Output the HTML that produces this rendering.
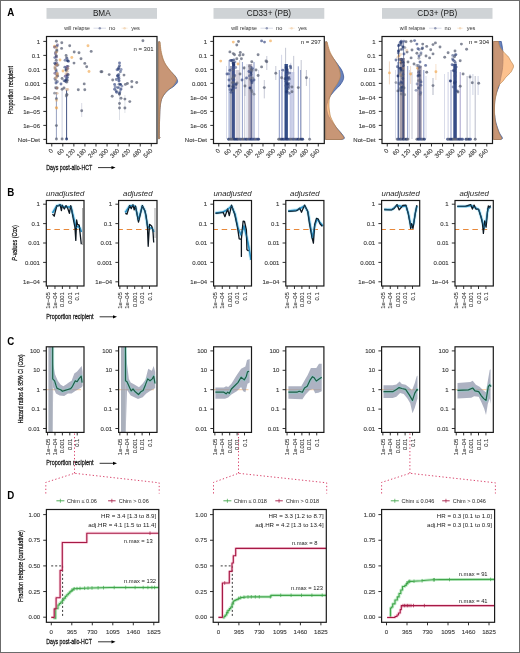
<!DOCTYPE html>
<html><head><meta charset="utf-8"><style>
html,body{margin:0;padding:0;background:#fff;}
svg{display:block;font-family:"Liberation Sans",sans-serif;will-change:transform;}
</style></head><body>
<svg width="520" height="653" viewBox="0 0 520 653">
<rect width="520" height="653" fill="#fff"/>
<text transform="translate(7.2,15.5) scale(0.9,1)" font-size="10.8" text-anchor="start" fill="#000" font-weight="bold" font-style="normal">A</text>
<text transform="translate(7.2,195.5) scale(0.9,1)" font-size="10.8" text-anchor="start" fill="#000" font-weight="bold" font-style="normal">B</text>
<text transform="translate(7.2,344.7) scale(0.9,1)" font-size="10.8" text-anchor="start" fill="#000" font-weight="bold" font-style="normal">C</text>
<text transform="translate(7.2,498.6) scale(0.9,1)" font-size="10.8" text-anchor="start" fill="#000" font-weight="bold" font-style="normal">D</text>
<rect x="46.5" y="8" width="110.5" height="10.8" fill="#cfd3d6" stroke="none" stroke-width="1" />
<text transform="translate(101.75,15.5)" font-size="8.2" text-anchor="middle" fill="#1a1a1a" font-weight="normal" font-style="normal">BMA</text>
<text transform="translate(64.3,30) scale(0.93,1)" font-size="5.6" text-anchor="start" fill="#333" font-weight="normal" font-style="normal">will relapse</text>
<line x1="93.5" y1="28.2" x2="106" y2="28.2" stroke="#d0d4e2" stroke-width="0.8" />
<circle cx="99.8" cy="28.2" r="1.2" fill="#6a7398" fill-opacity="0.7" />
<text transform="translate(109.1,30)" font-size="5.6" text-anchor="start" fill="#333" font-weight="normal" font-style="normal">no</text>
<line x1="121.5" y1="28.2" x2="127.7" y2="28.2" stroke="#f8e6d4" stroke-width="0.8" />
<circle cx="124.6" cy="28.2" r="1.2" fill="#f0cfa8" fill-opacity="0.7" />
<text transform="translate(131.2,30)" font-size="5.6" text-anchor="start" fill="#333" font-weight="normal" font-style="normal">yes</text>
<line x1="43.3" y1="41.4" x2="46.5" y2="41.4" stroke="#1a1a1a" stroke-width="0.9" />
<text transform="translate(40,43.5)" font-size="6.0" text-anchor="end" fill="#3c3c3c" font-weight="normal" font-style="normal" stroke="#3c3c3c" stroke-width="0.12">1</text>
<line x1="43.3" y1="55.4" x2="46.5" y2="55.4" stroke="#1a1a1a" stroke-width="0.9" />
<text transform="translate(40,57.5)" font-size="6.0" text-anchor="end" fill="#3c3c3c" font-weight="normal" font-style="normal" stroke="#3c3c3c" stroke-width="0.12">0.1</text>
<line x1="43.3" y1="69.4" x2="46.5" y2="69.4" stroke="#1a1a1a" stroke-width="0.9" />
<text transform="translate(40,71.5)" font-size="6.0" text-anchor="end" fill="#3c3c3c" font-weight="normal" font-style="normal" stroke="#3c3c3c" stroke-width="0.12">0.01</text>
<line x1="43.3" y1="83.4" x2="46.5" y2="83.4" stroke="#1a1a1a" stroke-width="0.9" />
<text transform="translate(40,85.5)" font-size="6.0" text-anchor="end" fill="#3c3c3c" font-weight="normal" font-style="normal" stroke="#3c3c3c" stroke-width="0.12">0.001</text>
<line x1="43.3" y1="97.4" x2="46.5" y2="97.4" stroke="#1a1a1a" stroke-width="0.9" />
<text transform="translate(40,99.5)" font-size="6.0" text-anchor="end" fill="#3c3c3c" font-weight="normal" font-style="normal" stroke="#3c3c3c" stroke-width="0.12">1e−04</text>
<line x1="43.3" y1="111.4" x2="46.5" y2="111.4" stroke="#1a1a1a" stroke-width="0.9" />
<text transform="translate(40,113.5)" font-size="6.0" text-anchor="end" fill="#3c3c3c" font-weight="normal" font-style="normal" stroke="#3c3c3c" stroke-width="0.12">1e−05</text>
<line x1="43.3" y1="125.4" x2="46.5" y2="125.4" stroke="#1a1a1a" stroke-width="0.9" />
<text transform="translate(40,127.5)" font-size="6.0" text-anchor="end" fill="#3c3c3c" font-weight="normal" font-style="normal" stroke="#3c3c3c" stroke-width="0.12">1e−06</text>
<line x1="43.3" y1="139.4" x2="46.5" y2="139.4" stroke="#1a1a1a" stroke-width="0.9" />
<text transform="translate(40,141.5)" font-size="6.0" text-anchor="end" fill="#3c3c3c" font-weight="normal" font-style="normal" stroke="#3c3c3c" stroke-width="0.12">Not−Det</text>
<line x1="51.75" y1="143.5" x2="51.75" y2="146.5" stroke="#1a1a1a" stroke-width="0.9" />
<text transform="translate(53.25,151.1) rotate(-45)" font-size="6.0" text-anchor="end" fill="#3c3c3c" font-weight="normal" font-style="normal" stroke="#3c3c3c" stroke-width="0.12">0</text>
<line x1="62.81" y1="143.5" x2="62.81" y2="146.5" stroke="#1a1a1a" stroke-width="0.9" />
<text transform="translate(64.31,151.1) rotate(-45)" font-size="6.0" text-anchor="end" fill="#3c3c3c" font-weight="normal" font-style="normal" stroke="#3c3c3c" stroke-width="0.12">60</text>
<line x1="73.87" y1="143.5" x2="73.87" y2="146.5" stroke="#1a1a1a" stroke-width="0.9" />
<text transform="translate(75.37,151.1) rotate(-45)" font-size="6.0" text-anchor="end" fill="#3c3c3c" font-weight="normal" font-style="normal" stroke="#3c3c3c" stroke-width="0.12">120</text>
<line x1="84.93" y1="143.5" x2="84.93" y2="146.5" stroke="#1a1a1a" stroke-width="0.9" />
<text transform="translate(86.43,151.1) rotate(-45)" font-size="6.0" text-anchor="end" fill="#3c3c3c" font-weight="normal" font-style="normal" stroke="#3c3c3c" stroke-width="0.12">180</text>
<line x1="95.99" y1="143.5" x2="95.99" y2="146.5" stroke="#1a1a1a" stroke-width="0.9" />
<text transform="translate(97.49,151.1) rotate(-45)" font-size="6.0" text-anchor="end" fill="#3c3c3c" font-weight="normal" font-style="normal" stroke="#3c3c3c" stroke-width="0.12">240</text>
<line x1="107.05" y1="143.5" x2="107.05" y2="146.5" stroke="#1a1a1a" stroke-width="0.9" />
<text transform="translate(108.55,151.1) rotate(-45)" font-size="6.0" text-anchor="end" fill="#3c3c3c" font-weight="normal" font-style="normal" stroke="#3c3c3c" stroke-width="0.12">300</text>
<line x1="118.11" y1="143.5" x2="118.11" y2="146.5" stroke="#1a1a1a" stroke-width="0.9" />
<text transform="translate(119.61,151.1) rotate(-45)" font-size="6.0" text-anchor="end" fill="#3c3c3c" font-weight="normal" font-style="normal" stroke="#3c3c3c" stroke-width="0.12">360</text>
<line x1="129.17" y1="143.5" x2="129.17" y2="146.5" stroke="#1a1a1a" stroke-width="0.9" />
<text transform="translate(130.67,151.1) rotate(-45)" font-size="6.0" text-anchor="end" fill="#3c3c3c" font-weight="normal" font-style="normal" stroke="#3c3c3c" stroke-width="0.12">420</text>
<line x1="140.23" y1="143.5" x2="140.23" y2="146.5" stroke="#1a1a1a" stroke-width="0.9" />
<text transform="translate(141.73,151.1) rotate(-45)" font-size="6.0" text-anchor="end" fill="#3c3c3c" font-weight="normal" font-style="normal" stroke="#3c3c3c" stroke-width="0.12">480</text>
<line x1="151.29" y1="143.5" x2="151.29" y2="146.5" stroke="#1a1a1a" stroke-width="0.9" />
<text transform="translate(152.79,151.1) rotate(-45)" font-size="6.0" text-anchor="end" fill="#3c3c3c" font-weight="normal" font-style="normal" stroke="#3c3c3c" stroke-width="0.12">540</text>
<text transform="translate(153.6,51.1)" font-size="6.0" text-anchor="end" fill="#1a1a1a" font-weight="normal" font-style="normal">n = 301</text>
<rect x="213.5" y="8" width="110.8" height="10.8" fill="#cfd3d6" stroke="none" stroke-width="1" />
<text transform="translate(268.9,15.5)" font-size="8.2" text-anchor="middle" fill="#1a1a1a" font-weight="normal" font-style="normal">CD33+ (PB)</text>
<text transform="translate(231.3,30) scale(0.93,1)" font-size="5.6" text-anchor="start" fill="#333" font-weight="normal" font-style="normal">will relapse</text>
<line x1="260.5" y1="28.2" x2="273" y2="28.2" stroke="#d0d4e2" stroke-width="0.8" />
<circle cx="266.8" cy="28.2" r="1.2" fill="#6a7398" fill-opacity="0.7" />
<text transform="translate(276.1,30)" font-size="5.6" text-anchor="start" fill="#333" font-weight="normal" font-style="normal">no</text>
<line x1="288.5" y1="28.2" x2="294.7" y2="28.2" stroke="#f8e6d4" stroke-width="0.8" />
<circle cx="291.6" cy="28.2" r="1.2" fill="#f0cfa8" fill-opacity="0.7" />
<text transform="translate(298.2,30)" font-size="5.6" text-anchor="start" fill="#333" font-weight="normal" font-style="normal">yes</text>
<line x1="210.3" y1="41.4" x2="213.5" y2="41.4" stroke="#1a1a1a" stroke-width="0.9" />
<text transform="translate(207,43.5)" font-size="6.0" text-anchor="end" fill="#3c3c3c" font-weight="normal" font-style="normal" stroke="#3c3c3c" stroke-width="0.12">1</text>
<line x1="210.3" y1="55.4" x2="213.5" y2="55.4" stroke="#1a1a1a" stroke-width="0.9" />
<text transform="translate(207,57.5)" font-size="6.0" text-anchor="end" fill="#3c3c3c" font-weight="normal" font-style="normal" stroke="#3c3c3c" stroke-width="0.12">0.1</text>
<line x1="210.3" y1="69.4" x2="213.5" y2="69.4" stroke="#1a1a1a" stroke-width="0.9" />
<text transform="translate(207,71.5)" font-size="6.0" text-anchor="end" fill="#3c3c3c" font-weight="normal" font-style="normal" stroke="#3c3c3c" stroke-width="0.12">0.01</text>
<line x1="210.3" y1="83.4" x2="213.5" y2="83.4" stroke="#1a1a1a" stroke-width="0.9" />
<text transform="translate(207,85.5)" font-size="6.0" text-anchor="end" fill="#3c3c3c" font-weight="normal" font-style="normal" stroke="#3c3c3c" stroke-width="0.12">0.001</text>
<line x1="210.3" y1="97.4" x2="213.5" y2="97.4" stroke="#1a1a1a" stroke-width="0.9" />
<text transform="translate(207,99.5)" font-size="6.0" text-anchor="end" fill="#3c3c3c" font-weight="normal" font-style="normal" stroke="#3c3c3c" stroke-width="0.12">1e−04</text>
<line x1="210.3" y1="111.4" x2="213.5" y2="111.4" stroke="#1a1a1a" stroke-width="0.9" />
<text transform="translate(207,113.5)" font-size="6.0" text-anchor="end" fill="#3c3c3c" font-weight="normal" font-style="normal" stroke="#3c3c3c" stroke-width="0.12">1e−05</text>
<line x1="210.3" y1="125.4" x2="213.5" y2="125.4" stroke="#1a1a1a" stroke-width="0.9" />
<text transform="translate(207,127.5)" font-size="6.0" text-anchor="end" fill="#3c3c3c" font-weight="normal" font-style="normal" stroke="#3c3c3c" stroke-width="0.12">1e−06</text>
<line x1="210.3" y1="139.4" x2="213.5" y2="139.4" stroke="#1a1a1a" stroke-width="0.9" />
<text transform="translate(207,141.5)" font-size="6.0" text-anchor="end" fill="#3c3c3c" font-weight="normal" font-style="normal" stroke="#3c3c3c" stroke-width="0.12">Not−Det</text>
<line x1="218.75" y1="143.5" x2="218.75" y2="146.5" stroke="#1a1a1a" stroke-width="0.9" />
<text transform="translate(220.25,151.1) rotate(-45)" font-size="6.0" text-anchor="end" fill="#3c3c3c" font-weight="normal" font-style="normal" stroke="#3c3c3c" stroke-width="0.12">0</text>
<line x1="229.81" y1="143.5" x2="229.81" y2="146.5" stroke="#1a1a1a" stroke-width="0.9" />
<text transform="translate(231.31,151.1) rotate(-45)" font-size="6.0" text-anchor="end" fill="#3c3c3c" font-weight="normal" font-style="normal" stroke="#3c3c3c" stroke-width="0.12">60</text>
<line x1="240.87" y1="143.5" x2="240.87" y2="146.5" stroke="#1a1a1a" stroke-width="0.9" />
<text transform="translate(242.37,151.1) rotate(-45)" font-size="6.0" text-anchor="end" fill="#3c3c3c" font-weight="normal" font-style="normal" stroke="#3c3c3c" stroke-width="0.12">120</text>
<line x1="251.93" y1="143.5" x2="251.93" y2="146.5" stroke="#1a1a1a" stroke-width="0.9" />
<text transform="translate(253.43,151.1) rotate(-45)" font-size="6.0" text-anchor="end" fill="#3c3c3c" font-weight="normal" font-style="normal" stroke="#3c3c3c" stroke-width="0.12">180</text>
<line x1="262.99" y1="143.5" x2="262.99" y2="146.5" stroke="#1a1a1a" stroke-width="0.9" />
<text transform="translate(264.49,151.1) rotate(-45)" font-size="6.0" text-anchor="end" fill="#3c3c3c" font-weight="normal" font-style="normal" stroke="#3c3c3c" stroke-width="0.12">240</text>
<line x1="274.05" y1="143.5" x2="274.05" y2="146.5" stroke="#1a1a1a" stroke-width="0.9" />
<text transform="translate(275.55,151.1) rotate(-45)" font-size="6.0" text-anchor="end" fill="#3c3c3c" font-weight="normal" font-style="normal" stroke="#3c3c3c" stroke-width="0.12">300</text>
<line x1="285.11" y1="143.5" x2="285.11" y2="146.5" stroke="#1a1a1a" stroke-width="0.9" />
<text transform="translate(286.61,151.1) rotate(-45)" font-size="6.0" text-anchor="end" fill="#3c3c3c" font-weight="normal" font-style="normal" stroke="#3c3c3c" stroke-width="0.12">360</text>
<line x1="296.17" y1="143.5" x2="296.17" y2="146.5" stroke="#1a1a1a" stroke-width="0.9" />
<text transform="translate(297.67,151.1) rotate(-45)" font-size="6.0" text-anchor="end" fill="#3c3c3c" font-weight="normal" font-style="normal" stroke="#3c3c3c" stroke-width="0.12">420</text>
<line x1="307.23" y1="143.5" x2="307.23" y2="146.5" stroke="#1a1a1a" stroke-width="0.9" />
<text transform="translate(308.73,151.1) rotate(-45)" font-size="6.0" text-anchor="end" fill="#3c3c3c" font-weight="normal" font-style="normal" stroke="#3c3c3c" stroke-width="0.12">480</text>
<line x1="318.29" y1="143.5" x2="318.29" y2="146.5" stroke="#1a1a1a" stroke-width="0.9" />
<text transform="translate(319.79,151.1) rotate(-45)" font-size="6.0" text-anchor="end" fill="#3c3c3c" font-weight="normal" font-style="normal" stroke="#3c3c3c" stroke-width="0.12">540</text>
<text transform="translate(320.9,44.4)" font-size="6.0" text-anchor="end" fill="#1a1a1a" font-weight="normal" font-style="normal">n = 297</text>
<rect x="382" y="8" width="110.5" height="10.8" fill="#cfd3d6" stroke="none" stroke-width="1" />
<text transform="translate(437.25,15.5)" font-size="8.2" text-anchor="middle" fill="#1a1a1a" font-weight="normal" font-style="normal">CD3+ (PB)</text>
<text transform="translate(399.8,30) scale(0.93,1)" font-size="5.6" text-anchor="start" fill="#333" font-weight="normal" font-style="normal">will relapse</text>
<line x1="429" y1="28.2" x2="441.5" y2="28.2" stroke="#d0d4e2" stroke-width="0.8" />
<circle cx="435.3" cy="28.2" r="1.2" fill="#6a7398" fill-opacity="0.7" />
<text transform="translate(444.6,30)" font-size="5.6" text-anchor="start" fill="#333" font-weight="normal" font-style="normal">no</text>
<line x1="457" y1="28.2" x2="463.2" y2="28.2" stroke="#f8e6d4" stroke-width="0.8" />
<circle cx="460.1" cy="28.2" r="1.2" fill="#f0cfa8" fill-opacity="0.7" />
<text transform="translate(466.7,30)" font-size="5.6" text-anchor="start" fill="#333" font-weight="normal" font-style="normal">yes</text>
<line x1="378.8" y1="41.4" x2="382" y2="41.4" stroke="#1a1a1a" stroke-width="0.9" />
<text transform="translate(375.5,43.5)" font-size="6.0" text-anchor="end" fill="#3c3c3c" font-weight="normal" font-style="normal" stroke="#3c3c3c" stroke-width="0.12">1</text>
<line x1="378.8" y1="55.4" x2="382" y2="55.4" stroke="#1a1a1a" stroke-width="0.9" />
<text transform="translate(375.5,57.5)" font-size="6.0" text-anchor="end" fill="#3c3c3c" font-weight="normal" font-style="normal" stroke="#3c3c3c" stroke-width="0.12">0.1</text>
<line x1="378.8" y1="69.4" x2="382" y2="69.4" stroke="#1a1a1a" stroke-width="0.9" />
<text transform="translate(375.5,71.5)" font-size="6.0" text-anchor="end" fill="#3c3c3c" font-weight="normal" font-style="normal" stroke="#3c3c3c" stroke-width="0.12">0.01</text>
<line x1="378.8" y1="83.4" x2="382" y2="83.4" stroke="#1a1a1a" stroke-width="0.9" />
<text transform="translate(375.5,85.5)" font-size="6.0" text-anchor="end" fill="#3c3c3c" font-weight="normal" font-style="normal" stroke="#3c3c3c" stroke-width="0.12">0.001</text>
<line x1="378.8" y1="97.4" x2="382" y2="97.4" stroke="#1a1a1a" stroke-width="0.9" />
<text transform="translate(375.5,99.5)" font-size="6.0" text-anchor="end" fill="#3c3c3c" font-weight="normal" font-style="normal" stroke="#3c3c3c" stroke-width="0.12">1e−04</text>
<line x1="378.8" y1="111.4" x2="382" y2="111.4" stroke="#1a1a1a" stroke-width="0.9" />
<text transform="translate(375.5,113.5)" font-size="6.0" text-anchor="end" fill="#3c3c3c" font-weight="normal" font-style="normal" stroke="#3c3c3c" stroke-width="0.12">1e−05</text>
<line x1="378.8" y1="125.4" x2="382" y2="125.4" stroke="#1a1a1a" stroke-width="0.9" />
<text transform="translate(375.5,127.5)" font-size="6.0" text-anchor="end" fill="#3c3c3c" font-weight="normal" font-style="normal" stroke="#3c3c3c" stroke-width="0.12">1e−06</text>
<line x1="378.8" y1="139.4" x2="382" y2="139.4" stroke="#1a1a1a" stroke-width="0.9" />
<text transform="translate(375.5,141.5)" font-size="6.0" text-anchor="end" fill="#3c3c3c" font-weight="normal" font-style="normal" stroke="#3c3c3c" stroke-width="0.12">Not−Det</text>
<line x1="387.25" y1="143.5" x2="387.25" y2="146.5" stroke="#1a1a1a" stroke-width="0.9" />
<text transform="translate(388.75,151.1) rotate(-45)" font-size="6.0" text-anchor="end" fill="#3c3c3c" font-weight="normal" font-style="normal" stroke="#3c3c3c" stroke-width="0.12">0</text>
<line x1="398.31" y1="143.5" x2="398.31" y2="146.5" stroke="#1a1a1a" stroke-width="0.9" />
<text transform="translate(399.81,151.1) rotate(-45)" font-size="6.0" text-anchor="end" fill="#3c3c3c" font-weight="normal" font-style="normal" stroke="#3c3c3c" stroke-width="0.12">60</text>
<line x1="409.37" y1="143.5" x2="409.37" y2="146.5" stroke="#1a1a1a" stroke-width="0.9" />
<text transform="translate(410.87,151.1) rotate(-45)" font-size="6.0" text-anchor="end" fill="#3c3c3c" font-weight="normal" font-style="normal" stroke="#3c3c3c" stroke-width="0.12">120</text>
<line x1="420.43" y1="143.5" x2="420.43" y2="146.5" stroke="#1a1a1a" stroke-width="0.9" />
<text transform="translate(421.93,151.1) rotate(-45)" font-size="6.0" text-anchor="end" fill="#3c3c3c" font-weight="normal" font-style="normal" stroke="#3c3c3c" stroke-width="0.12">180</text>
<line x1="431.49" y1="143.5" x2="431.49" y2="146.5" stroke="#1a1a1a" stroke-width="0.9" />
<text transform="translate(432.99,151.1) rotate(-45)" font-size="6.0" text-anchor="end" fill="#3c3c3c" font-weight="normal" font-style="normal" stroke="#3c3c3c" stroke-width="0.12">240</text>
<line x1="442.55" y1="143.5" x2="442.55" y2="146.5" stroke="#1a1a1a" stroke-width="0.9" />
<text transform="translate(444.05,151.1) rotate(-45)" font-size="6.0" text-anchor="end" fill="#3c3c3c" font-weight="normal" font-style="normal" stroke="#3c3c3c" stroke-width="0.12">300</text>
<line x1="453.61" y1="143.5" x2="453.61" y2="146.5" stroke="#1a1a1a" stroke-width="0.9" />
<text transform="translate(455.11,151.1) rotate(-45)" font-size="6.0" text-anchor="end" fill="#3c3c3c" font-weight="normal" font-style="normal" stroke="#3c3c3c" stroke-width="0.12">360</text>
<line x1="464.67" y1="143.5" x2="464.67" y2="146.5" stroke="#1a1a1a" stroke-width="0.9" />
<text transform="translate(466.17,151.1) rotate(-45)" font-size="6.0" text-anchor="end" fill="#3c3c3c" font-weight="normal" font-style="normal" stroke="#3c3c3c" stroke-width="0.12">420</text>
<line x1="475.73" y1="143.5" x2="475.73" y2="146.5" stroke="#1a1a1a" stroke-width="0.9" />
<text transform="translate(477.23,151.1) rotate(-45)" font-size="6.0" text-anchor="end" fill="#3c3c3c" font-weight="normal" font-style="normal" stroke="#3c3c3c" stroke-width="0.12">480</text>
<line x1="486.79" y1="143.5" x2="486.79" y2="146.5" stroke="#1a1a1a" stroke-width="0.9" />
<text transform="translate(488.29,151.1) rotate(-45)" font-size="6.0" text-anchor="end" fill="#3c3c3c" font-weight="normal" font-style="normal" stroke="#3c3c3c" stroke-width="0.12">540</text>
<text transform="translate(489.1,44.4)" font-size="6.0" text-anchor="end" fill="#1a1a1a" font-weight="normal" font-style="normal">n = 304</text>
<text transform="translate(46.3,169.9) scale(0.676,1)" font-size="7.8" text-anchor="start" fill="#141414" font-weight="normal" font-style="normal" stroke="#141414" stroke-width="0.26">Days post-allo-HCT</text>
<line x1="98" y1="167.6" x2="112.5" y2="167.6" stroke="#000" stroke-width="0.8" />
<polygon points="115.5,167.6 111.5,166 111.5,169.2" fill="#000" />
<text transform="translate(12.9,90.1) rotate(-90) scale(0.714,1)" font-size="7.8" text-anchor="middle" fill="#141414" font-weight="normal" font-style="normal" stroke="#141414" stroke-width="0.26">Proportion recipient</text>
<line x1="56.4" y1="92" x2="56.4" y2="139" stroke="#5a6a9a" stroke-width="0.8" stroke-opacity="0.8"/>
<line x1="62.1" y1="89" x2="62.1" y2="139" stroke="#9aa3bf" stroke-width="0.7" stroke-opacity="0.7"/>
<line x1="66.6" y1="90" x2="66.6" y2="139" stroke="#2f4278" stroke-width="1.0" stroke-opacity="0.9"/>
<line x1="81.7" y1="103" x2="81.7" y2="117" stroke="#b0b6c8" stroke-width="0.6" stroke-opacity="0.8"/>
<line x1="119.5" y1="94" x2="119.5" y2="120" stroke="#c9cdd8" stroke-width="0.7" stroke-opacity="0.9"/>
<line x1="124.9" y1="95" x2="124.9" y2="113" stroke="#c9cdd8" stroke-width="0.6" stroke-opacity="0.9"/>
<circle cx="56.4" cy="41.2" r="1.45" fill="#5b6275" fill-opacity="0.75" />
<circle cx="61.8" cy="42.7" r="1.45" fill="#5b6275" fill-opacity="0.75" />
<circle cx="69.7" cy="45.7" r="1.45" fill="#5b6275" fill-opacity="0.75" />
<circle cx="88" cy="45.7" r="1.45" fill="#f0a040" fill-opacity="0.6" />
<circle cx="54.6" cy="46.2" r="1.45" fill="#f0a040" fill-opacity="0.6" />
<circle cx="56.8" cy="50" r="1.45" fill="#5b6275" fill-opacity="0.75" />
<circle cx="61.6" cy="48.4" r="1.45" fill="#5b6275" fill-opacity="0.75" />
<circle cx="74.2" cy="52" r="1.45" fill="#5b6275" fill-opacity="0.75" />
<circle cx="79" cy="52.7" r="1.45" fill="#5b6275" fill-opacity="0.75" />
<circle cx="91.2" cy="51.4" r="1.45" fill="#5b6275" fill-opacity="0.75" />
<circle cx="66.1" cy="55.4" r="1.45" fill="#5b6275" fill-opacity="0.75" />
<circle cx="56.2" cy="56" r="1.45" fill="#5b6275" fill-opacity="0.75" />
<circle cx="71.8" cy="57.5" r="1.45" fill="#f0a040" fill-opacity="0.6" />
<circle cx="81" cy="58.8" r="1.45" fill="#5b6275" fill-opacity="0.75" />
<circle cx="56.2" cy="60.2" r="1.45" fill="#5b6275" fill-opacity="0.75" />
<circle cx="67.5" cy="60.8" r="1.45" fill="#22366e" fill-opacity="0.85" />
<circle cx="74" cy="63.1" r="1.45" fill="#5b6275" fill-opacity="0.75" />
<circle cx="84.8" cy="63.4" r="1.45" fill="#5b6275" fill-opacity="0.75" />
<circle cx="86.7" cy="66.7" r="1.45" fill="#5b6275" fill-opacity="0.75" />
<circle cx="89" cy="71.5" r="1.45" fill="#f0a040" fill-opacity="0.6" />
<circle cx="101" cy="71.7" r="1.45" fill="#5b6275" fill-opacity="0.75" />
<circle cx="62.1" cy="78.5" r="1.45" fill="#5b6275" fill-opacity="0.75" />
<circle cx="84.2" cy="83.9" r="1.45" fill="#5b6275" fill-opacity="0.75" />
<circle cx="78.3" cy="89.8" r="1.45" fill="#5b6275" fill-opacity="0.75" />
<circle cx="84.8" cy="89.8" r="1.45" fill="#5b6275" fill-opacity="0.75" />
<circle cx="62.1" cy="89.3" r="1.45" fill="#5b6275" fill-opacity="0.75" />
<circle cx="56.4" cy="125.6" r="1.45" fill="#5b6275" fill-opacity="0.75" />
<circle cx="56.4" cy="107.6" r="1.45" fill="#f0a040" fill-opacity="0.6" />
<circle cx="56.4" cy="98.8" r="1.45" fill="#5b6275" fill-opacity="0.75" />
<circle cx="81.7" cy="110.7" r="1.45" fill="#5b6275" fill-opacity="0.75" />
<circle cx="56.4" cy="139" r="1.45" fill="#5b6275" fill-opacity="0.75" />
<circle cx="62.1" cy="139" r="1.45" fill="#5b6275" fill-opacity="0.75" />
<circle cx="66.6" cy="139" r="1.45" fill="#22366e" fill-opacity="0.85" />
<circle cx="142.9" cy="40.7" r="1.45" fill="#5b6275" fill-opacity="0.75" />
<circle cx="101.9" cy="71.7" r="1.45" fill="#5b6275" fill-opacity="0.75" />
<circle cx="109.2" cy="74.6" r="1.45" fill="#5b6275" fill-opacity="0.75" />
<circle cx="112.7" cy="80" r="1.45" fill="#5b6275" fill-opacity="0.75" />
<circle cx="124" cy="75.1" r="1.45" fill="#5b6275" fill-opacity="0.75" />
<circle cx="131.8" cy="81.5" r="1.45" fill="#5b6275" fill-opacity="0.75" />
<circle cx="136.7" cy="82.5" r="1.45" fill="#5b6275" fill-opacity="0.75" />
<circle cx="131.8" cy="86.9" r="1.45" fill="#5b6275" fill-opacity="0.75" />
<circle cx="112.2" cy="96.2" r="1.45" fill="#5b6275" fill-opacity="0.75" />
<circle cx="129.8" cy="101.6" r="1.45" fill="#5b6275" fill-opacity="0.75" />
<circle cx="119.5" cy="62.9" r="1.45" fill="#3d4f86" fill-opacity="0.7" />
<circle cx="119.5" cy="65.8" r="1.45" fill="#3d4f86" fill-opacity="0.7" />
<circle cx="118.5" cy="68.7" r="1.45" fill="#3d4f86" fill-opacity="0.7" />
<circle cx="117.6" cy="75.6" r="1.45" fill="#3d4f86" fill-opacity="0.7" />
<circle cx="119" cy="78.5" r="1.45" fill="#3d4f86" fill-opacity="0.7" />
<circle cx="120.5" cy="84.4" r="1.45" fill="#22366e" fill-opacity="0.85" />
<circle cx="114.6" cy="84.4" r="1.45" fill="#3d4f86" fill-opacity="0.7" />
<circle cx="114.6" cy="89.3" r="1.45" fill="#3d4f86" fill-opacity="0.7" />
<circle cx="116.6" cy="92.3" r="1.45" fill="#3d4f86" fill-opacity="0.7" />
<circle cx="119.5" cy="94.2" r="1.45" fill="#5b6275" fill-opacity="0.75" />
<circle cx="121" cy="98.2" r="1.45" fill="#5b6275" fill-opacity="0.75" />
<circle cx="119.5" cy="103.5" r="1.45" fill="#5b6275" fill-opacity="0.75" />
<circle cx="119.5" cy="108" r="1.45" fill="#5b6275" fill-opacity="0.75" />
<circle cx="124.9" cy="99.1" r="1.45" fill="#5b6275" fill-opacity="0.75" />
<circle cx="124.9" cy="108" r="1.45" fill="#5b6275" fill-opacity="0.75" />
<circle cx="125.4" cy="84.4" r="1.45" fill="#5b6275" fill-opacity="0.75" />
<circle cx="127.4" cy="83.5" r="1.45" fill="#5b6275" fill-opacity="0.75" />
<circle cx="63" cy="71" r="1.45" fill="#f0a040" fill-opacity="0.6" />
<circle cx="60" cy="60" r="1.45" fill="#f0a040" fill-opacity="0.6" />
<circle cx="66" cy="70" r="1.45" fill="#22366e" fill-opacity="0.85" />
<circle cx="67" cy="75" r="1.45" fill="#22366e" fill-opacity="0.85" />
<circle cx="66" cy="80" r="1.45" fill="#3d4f86" fill-opacity="0.7" />
<circle cx="56" cy="70" r="1.45" fill="#3d4f86" fill-opacity="0.7" />
<circle cx="57" cy="76" r="1.45" fill="#3d4f86" fill-opacity="0.7" />
<circle cx="56" cy="83" r="1.45" fill="#3d4f86" fill-opacity="0.7" />
<circle cx="57" cy="88" r="1.45" fill="#5b6275" fill-opacity="0.75" />
<circle cx="61" cy="84" r="1.45" fill="#3d4f86" fill-opacity="0.7" />
<circle cx="64" cy="88" r="1.45" fill="#5b6275" fill-opacity="0.75" />
<circle cx="56.69" cy="62.87" r="1.45" fill="#5a4a7a" fill-opacity="0.6" />
<circle cx="57.73" cy="75.91" r="1.45" fill="#3d4f86" fill-opacity="0.6" />
<circle cx="55.05" cy="67.93" r="1.45" fill="#5b6275" fill-opacity="0.6" />
<circle cx="55.39" cy="53.78" r="1.45" fill="#5a4a7a" fill-opacity="0.6" />
<circle cx="55.5" cy="64.25" r="1.45" fill="#5b6275" fill-opacity="0.6" />
<circle cx="56.31" cy="55.83" r="1.45" fill="#5b6275" fill-opacity="0.6" />
<circle cx="57.34" cy="81.8" r="1.45" fill="#3d4f86" fill-opacity="0.6" />
<circle cx="55.79" cy="52.13" r="1.45" fill="#3d4f86" fill-opacity="0.6" />
<circle cx="56.53" cy="88.14" r="1.45" fill="#5a4a7a" fill-opacity="0.6" />
<circle cx="56.81" cy="74.33" r="1.45" fill="#5a4a7a" fill-opacity="0.6" />
<circle cx="56.15" cy="64.14" r="1.45" fill="#5a4a7a" fill-opacity="0.6" />
<circle cx="54.62" cy="93.17" r="1.45" fill="#5b6275" fill-opacity="0.6" />
<circle cx="56.9" cy="50.93" r="1.45" fill="#5b6275" fill-opacity="0.6" />
<circle cx="56.32" cy="57.16" r="1.45" fill="#5a4a7a" fill-opacity="0.6" />
<circle cx="56.92" cy="65.48" r="1.45" fill="#5a4a7a" fill-opacity="0.6" />
<circle cx="54.86" cy="73.28" r="1.45" fill="#5a4a7a" fill-opacity="0.6" />
<circle cx="54.92" cy="78.78" r="1.45" fill="#3d4f86" fill-opacity="0.6" />
<circle cx="55.62" cy="87.68" r="1.45" fill="#5b6275" fill-opacity="0.6" />
<circle cx="56.35" cy="71.63" r="1.45" fill="#3d4f86" fill-opacity="0.6" />
<circle cx="55.84" cy="80.4" r="1.45" fill="#5b6275" fill-opacity="0.6" />
<circle cx="54.8" cy="57.62" r="1.45" fill="#3d4f86" fill-opacity="0.6" />
<circle cx="54.61" cy="47.24" r="1.45" fill="#5a4a7a" fill-opacity="0.6" />
<circle cx="57.97" cy="64.93" r="1.45" fill="#5b6275" fill-opacity="0.6" />
<circle cx="57.45" cy="45.03" r="1.45" fill="#5a4a7a" fill-opacity="0.6" />
<circle cx="56.82" cy="46.25" r="1.45" fill="#3d4f86" fill-opacity="0.6" />
<circle cx="54.79" cy="63.27" r="1.45" fill="#22366e" fill-opacity="0.6" />
<circle cx="64.86" cy="67.16" r="1.45" fill="#22366e" fill-opacity="0.6" />
<circle cx="66.29" cy="95.94" r="1.45" fill="#5b6275" fill-opacity="0.6" />
<circle cx="67.48" cy="77.42" r="1.45" fill="#22366e" fill-opacity="0.6" />
<circle cx="67.02" cy="94.86" r="1.45" fill="#5b6275" fill-opacity="0.6" />
<circle cx="66.55" cy="57.7" r="1.45" fill="#5b6275" fill-opacity="0.6" />
<circle cx="66.63" cy="68.55" r="1.45" fill="#22366e" fill-opacity="0.6" />
<circle cx="67.78" cy="74.42" r="1.45" fill="#4a3a80" fill-opacity="0.6" />
<circle cx="66.41" cy="81.76" r="1.45" fill="#3d4f86" fill-opacity="0.6" />
<circle cx="65.27" cy="76.28" r="1.45" fill="#4a3a80" fill-opacity="0.6" />
<circle cx="65.37" cy="81.37" r="1.45" fill="#22366e" fill-opacity="0.6" />
<circle cx="67.99" cy="66.33" r="1.45" fill="#5b6275" fill-opacity="0.6" />
<circle cx="66.58" cy="77.94" r="1.45" fill="#3d4f86" fill-opacity="0.6" />
<circle cx="67.71" cy="68.6" r="1.45" fill="#4a3a80" fill-opacity="0.6" />
<circle cx="64.13" cy="80.63" r="1.45" fill="#22366e" fill-opacity="0.6" />
<circle cx="68.31" cy="74.65" r="1.45" fill="#5b6275" fill-opacity="0.6" />
<circle cx="67.52" cy="80.35" r="1.45" fill="#5b6275" fill-opacity="0.6" />
<circle cx="66.98" cy="58.42" r="1.45" fill="#3d4f86" fill-opacity="0.6" />
<circle cx="66.79" cy="94.53" r="1.45" fill="#5b6275" fill-opacity="0.6" />
<circle cx="66.42" cy="80.06" r="1.45" fill="#22366e" fill-opacity="0.6" />
<circle cx="66.39" cy="70.56" r="1.45" fill="#5b6275" fill-opacity="0.6" />
<circle cx="67.1" cy="66.57" r="1.45" fill="#4a3a80" fill-opacity="0.6" />
<circle cx="65.08" cy="60.19" r="1.45" fill="#3d4f86" fill-opacity="0.6" />
<circle cx="68.49" cy="61.26" r="1.45" fill="#22366e" fill-opacity="0.6" />
<circle cx="66.73" cy="82.15" r="1.45" fill="#5b6275" fill-opacity="0.6" />
<circle cx="56.64" cy="77.41" r="1.45" fill="#c89a70" fill-opacity="0.5" />
<circle cx="57.18" cy="87.92" r="1.45" fill="#c89a70" fill-opacity="0.5" />
<circle cx="57.24" cy="73.35" r="1.45" fill="#c89a70" fill-opacity="0.5" />
<circle cx="57.07" cy="93.34" r="1.45" fill="#c89a70" fill-opacity="0.5" />
<circle cx="54.96" cy="66.77" r="1.45" fill="#c89a70" fill-opacity="0.5" />
<circle cx="57.27" cy="73.47" r="1.45" fill="#c89a70" fill-opacity="0.5" />
<circle cx="55.5" cy="78.04" r="1.45" fill="#c89a70" fill-opacity="0.5" />
<circle cx="55.08" cy="69" r="1.45" fill="#c89a70" fill-opacity="0.5" />
<circle cx="67.8" cy="68.49" r="1.45" fill="#c89a70" fill-opacity="0.45" />
<circle cx="67.76" cy="89.43" r="1.45" fill="#c89a70" fill-opacity="0.45" />
<circle cx="67.3" cy="71.47" r="1.45" fill="#c89a70" fill-opacity="0.45" />
<circle cx="66.51" cy="89.45" r="1.45" fill="#c89a70" fill-opacity="0.45" />
<circle cx="65.98" cy="73.74" r="1.45" fill="#c89a70" fill-opacity="0.45" />
<circle cx="117.03" cy="69.76" r="1.45" fill="#22366e" fill-opacity="0.55" />
<circle cx="116.29" cy="79.48" r="1.45" fill="#22366e" fill-opacity="0.55" />
<circle cx="118.69" cy="74.42" r="1.45" fill="#22366e" fill-opacity="0.55" />
<circle cx="120.41" cy="71.79" r="1.45" fill="#22366e" fill-opacity="0.55" />
<circle cx="119.32" cy="93.35" r="1.45" fill="#22366e" fill-opacity="0.55" />
<circle cx="115.19" cy="86.8" r="1.45" fill="#3d4f86" fill-opacity="0.55" />
<circle cx="117.52" cy="87.62" r="1.45" fill="#22366e" fill-opacity="0.55" />
<circle cx="116.17" cy="90.98" r="1.45" fill="#22366e" fill-opacity="0.55" />
<circle cx="118.2" cy="69.48" r="1.45" fill="#3d4f86" fill-opacity="0.55" />
<circle cx="121.91" cy="86.12" r="1.45" fill="#3d4f86" fill-opacity="0.55" />
<circle cx="119.85" cy="92" r="1.45" fill="#22366e" fill-opacity="0.55" />
<circle cx="118.8" cy="87.61" r="1.45" fill="#3d4f86" fill-opacity="0.55" />
<circle cx="118.89" cy="80.59" r="1.45" fill="#3d4f86" fill-opacity="0.55" />
<circle cx="118.11" cy="78" r="1.45" fill="#3d4f86" fill-opacity="0.55" />
<circle cx="117.54" cy="75.9" r="1.45" fill="#22366e" fill-opacity="0.55" />
<circle cx="120.72" cy="89.53" r="1.45" fill="#3d4f86" fill-opacity="0.55" />
<circle cx="118.69" cy="76.2" r="1.45" fill="#3d4f86" fill-opacity="0.55" />
<circle cx="121.11" cy="69.46" r="1.45" fill="#3d4f86" fill-opacity="0.55" />
<circle cx="121.03" cy="88.96" r="1.45" fill="#3d4f86" fill-opacity="0.55" />
<circle cx="119.08" cy="84.23" r="1.45" fill="#22366e" fill-opacity="0.55" />
<circle cx="118.85" cy="67.45" r="1.45" fill="#22366e" fill-opacity="0.55" />
<circle cx="119.02" cy="81.07" r="1.45" fill="#3d4f86" fill-opacity="0.55" />
<circle cx="57.23" cy="75.21" r="1.45" fill="#f0a040" fill-opacity="0.4" />
<circle cx="56.41" cy="47.62" r="1.45" fill="#f0a040" fill-opacity="0.4" />
<circle cx="56.36" cy="52.37" r="1.45" fill="#f0a040" fill-opacity="0.4" />
<circle cx="56.56" cy="108.33" r="1.45" fill="#f0a040" fill-opacity="0.4" />
<circle cx="56.56" cy="100.39" r="1.45" fill="#f0a040" fill-opacity="0.4" />
<circle cx="57.01" cy="64.85" r="1.45" fill="#f0a040" fill-opacity="0.4" />
<line x1="229.1" y1="60" x2="229.1" y2="139" stroke="#4a5fa8" stroke-width="0.8" stroke-opacity="0.85"/>
<line x1="242.4" y1="62" x2="242.4" y2="139" stroke="#4a5fa8" stroke-width="0.7" stroke-opacity="0.85"/>
<line x1="244.7" y1="66" x2="244.7" y2="139" stroke="#8a90a8" stroke-width="0.6" stroke-opacity="0.85"/>
<line x1="247" y1="64" x2="247" y2="139" stroke="#b4bad6" stroke-width="0.7" stroke-opacity="0.85"/>
<line x1="254" y1="62" x2="254" y2="139" stroke="#4a5fa8" stroke-width="0.8" stroke-opacity="0.85"/>
<line x1="258.6" y1="70" x2="258.6" y2="139" stroke="#b4bad6" stroke-width="0.7" stroke-opacity="0.85"/>
<line x1="226.5" y1="66" x2="226.5" y2="139" stroke="#b4bad6" stroke-width="0.6" stroke-opacity="0.85"/>
<line x1="239.7" y1="60" x2="239.7" y2="139" stroke="#8a90a8" stroke-width="0.6" stroke-opacity="0.85"/>
<line x1="279.3" y1="70" x2="279.3" y2="139" stroke="#4a5fa8" stroke-width="0.8" stroke-opacity="0.85"/>
<line x1="281.6" y1="54.8" x2="281.6" y2="139" stroke="#b4bad6" stroke-width="0.7" stroke-opacity="0.85"/>
<line x1="282.1" y1="72" x2="282.1" y2="139" stroke="#4a5fa8" stroke-width="0.7" stroke-opacity="0.85"/>
<line x1="285.6" y1="47.8" x2="285.6" y2="139" stroke="#8a90a8" stroke-width="0.6" stroke-opacity="0.85"/>
<line x1="290.8" y1="62.8" x2="290.8" y2="139" stroke="#b4bad6" stroke-width="0.7" stroke-opacity="0.85"/>
<line x1="293.7" y1="55.9" x2="293.7" y2="139" stroke="#8a90a8" stroke-width="0.6" stroke-opacity="0.85"/>
<line x1="298.3" y1="66.3" x2="298.3" y2="139" stroke="#4a5fa8" stroke-width="0.7" stroke-opacity="0.85"/>
<line x1="300.6" y1="70" x2="300.6" y2="139" stroke="#4a5fa8" stroke-width="0.7" stroke-opacity="0.85"/>
<line x1="301.2" y1="60" x2="301.2" y2="139" stroke="#8a90a8" stroke-width="0.6" stroke-opacity="0.85"/>
<line x1="309.6" y1="77.8" x2="309.6" y2="139" stroke="#b4bad6" stroke-width="0.8" stroke-opacity="0.85"/>
<rect x="232" y="62" width="2.9" height="77" fill="#2b3f7e" stroke="none" stroke-width="1" fill-opacity="0.9"/>
<rect x="235.5" y="70" width="4" height="69" fill="#c8c0cc" stroke="none" stroke-width="1" fill-opacity="0.7"/>
<rect x="230" y="66" width="2" height="73" fill="#6a6f90" stroke="none" stroke-width="1" fill-opacity="0.6"/>
<rect x="248.2" y="64" width="4" height="75" fill="#8a8098" stroke="none" stroke-width="1" fill-opacity="0.65"/>
<rect x="250.6" y="66" width="1.8" height="73" fill="#3a4a80" stroke="none" stroke-width="1" fill-opacity="0.6"/>
<rect x="284.5" y="64" width="3.4" height="75" fill="#23407e" stroke="none" stroke-width="1" fill-opacity="0.92"/>
<rect x="289.6" y="72" width="4.7" height="67" fill="#b8bde0" stroke="none" stroke-width="1" fill-opacity="0.7"/>
<line x1="264.3" y1="80" x2="264.3" y2="98.4" stroke="#8a90a8" stroke-width="0.6" stroke-opacity="0.8"/>
<line x1="275.8" y1="66" x2="275.8" y2="80" stroke="#8a90a8" stroke-width="0.6" stroke-opacity="0.8"/>
<line x1="306.4" y1="70" x2="306.4" y2="86" stroke="#8a90a8" stroke-width="0.6" stroke-opacity="0.8"/>
<line x1="245" y1="78" x2="245" y2="96" stroke="#8a90a8" stroke-width="0.6" stroke-opacity="0.8"/>
<line x1="266.8" y1="56" x2="266.8" y2="70" stroke="#8a90a8" stroke-width="0.6" stroke-opacity="0.8"/>
<circle cx="233.3" cy="42.1" r="1.45" fill="#f0a040" fill-opacity="0.6" />
<circle cx="238.5" cy="41.5" r="1.45" fill="#5b6275" fill-opacity="0.75" />
<circle cx="236.8" cy="45" r="1.45" fill="#5b6275" fill-opacity="0.75" />
<circle cx="229.9" cy="51.9" r="1.45" fill="#5b6275" fill-opacity="0.75" />
<circle cx="233.3" cy="53.6" r="1.45" fill="#5b6275" fill-opacity="0.75" />
<circle cx="234.5" cy="54.8" r="1.45" fill="#5b6275" fill-opacity="0.75" />
<circle cx="240.3" cy="52.5" r="1.45" fill="#5b6275" fill-opacity="0.75" />
<circle cx="239.7" cy="55.3" r="1.45" fill="#5b6275" fill-opacity="0.75" />
<circle cx="243.1" cy="54.8" r="1.45" fill="#5b6275" fill-opacity="0.75" />
<circle cx="236.8" cy="58.8" r="1.45" fill="#5b6275" fill-opacity="0.75" />
<circle cx="241.4" cy="58.8" r="1.45" fill="#5b6275" fill-opacity="0.75" />
<circle cx="233.9" cy="60" r="1.45" fill="#3d4f86" fill-opacity="0.7" />
<circle cx="220.7" cy="61.1" r="1.45" fill="#f0a040" fill-opacity="0.6" />
<circle cx="230.5" cy="60.5" r="1.45" fill="#3d4f86" fill-opacity="0.7" />
<circle cx="251.8" cy="61.7" r="1.45" fill="#5b6275" fill-opacity="0.75" />
<circle cx="258.1" cy="54.8" r="1.45" fill="#5b6275" fill-opacity="0.75" />
<circle cx="261.6" cy="40.9" r="1.45" fill="#3d4f86" fill-opacity="0.7" />
<circle cx="264.5" cy="42.1" r="1.45" fill="#3d4f86" fill-opacity="0.7" />
<circle cx="270.5" cy="40.9" r="1.45" fill="#f0a040" fill-opacity="0.6" />
<circle cx="266.8" cy="61.7" r="1.45" fill="#5b6275" fill-opacity="0.75" />
<circle cx="261.6" cy="66.9" r="1.45" fill="#5b6275" fill-opacity="0.75" />
<circle cx="229.9" cy="70.3" r="1.45" fill="#3d4f86" fill-opacity="0.7" />
<circle cx="233.9" cy="65.1" r="1.45" fill="#22366e" fill-opacity="0.85" />
<circle cx="252.4" cy="68.6" r="1.45" fill="#3d4f86" fill-opacity="0.7" />
<circle cx="248.9" cy="71.5" r="1.45" fill="#3d4f86" fill-opacity="0.7" />
<circle cx="258.1" cy="75.5" r="1.45" fill="#5b6275" fill-opacity="0.75" />
<circle cx="264.3" cy="87.6" r="1.45" fill="#5b6275" fill-opacity="0.75" />
<circle cx="266" cy="61" r="1.45" fill="#5b6275" fill-opacity="0.75" />
<circle cx="275.8" cy="73.2" r="1.45" fill="#5b6275" fill-opacity="0.75" />
<circle cx="282.7" cy="70.3" r="1.45" fill="#3d4f86" fill-opacity="0.7" />
<circle cx="281.6" cy="77.8" r="1.45" fill="#5b6275" fill-opacity="0.75" />
<circle cx="292" cy="87" r="1.45" fill="#5b6275" fill-opacity="0.75" />
<circle cx="292" cy="91.7" r="1.45" fill="#5b6275" fill-opacity="0.75" />
<circle cx="298.3" cy="87.6" r="1.45" fill="#5b6275" fill-opacity="0.75" />
<circle cx="306.4" cy="77.8" r="1.45" fill="#5b6275" fill-opacity="0.75" />
<circle cx="245" cy="86" r="1.45" fill="#5b6275" fill-opacity="0.75" />
<circle cx="229" cy="80" r="1.45" fill="#3d4f86" fill-opacity="0.7" />
<circle cx="229" cy="86" r="1.45" fill="#22366e" fill-opacity="0.85" />
<circle cx="236" cy="84" r="1.45" fill="#3d4f86" fill-opacity="0.7" />
<circle cx="240" cy="74" r="1.45" fill="#5b6275" fill-opacity="0.75" />
<circle cx="242" cy="80" r="1.45" fill="#3d4f86" fill-opacity="0.7" />
<circle cx="254" cy="80" r="1.45" fill="#3d4f86" fill-opacity="0.7" />
<circle cx="246.5" cy="78" r="1.45" fill="#3d4f86" fill-opacity="0.7" />
<circle cx="232" cy="90" r="1.45" fill="#22366e" fill-opacity="0.85" />
<circle cx="250" cy="88" r="1.45" fill="#22366e" fill-opacity="0.85" />
<circle cx="227" cy="74" r="1.45" fill="#3d4f86" fill-opacity="0.7" />
<circle cx="238" cy="64" r="1.45" fill="#f0a040" fill-opacity="0.6" />
<circle cx="244" cy="68" r="1.45" fill="#5b6275" fill-opacity="0.75" />
<circle cx="256" cy="70" r="1.45" fill="#5b6275" fill-opacity="0.75" />
<circle cx="231.04" cy="92.35" r="1.45" fill="#22366e" fill-opacity="0.55" />
<circle cx="233.6" cy="75.81" r="1.45" fill="#5b6275" fill-opacity="0.55" />
<circle cx="234.06" cy="76.65" r="1.45" fill="#5b6275" fill-opacity="0.55" />
<circle cx="235.68" cy="87.75" r="1.45" fill="#3d4f86" fill-opacity="0.55" />
<circle cx="232.16" cy="78.85" r="1.45" fill="#5b6275" fill-opacity="0.55" />
<circle cx="233.29" cy="82.21" r="1.45" fill="#5b6275" fill-opacity="0.55" />
<circle cx="237.11" cy="82.89" r="1.45" fill="#5b6275" fill-opacity="0.55" />
<circle cx="232.54" cy="82.75" r="1.45" fill="#5b6275" fill-opacity="0.55" />
<circle cx="234.95" cy="62.08" r="1.45" fill="#3d4f86" fill-opacity="0.55" />
<circle cx="233.18" cy="90.78" r="1.45" fill="#5b6275" fill-opacity="0.55" />
<circle cx="234.75" cy="75.42" r="1.45" fill="#3d4f86" fill-opacity="0.55" />
<circle cx="233.34" cy="78.17" r="1.45" fill="#5b6275" fill-opacity="0.55" />
<circle cx="232.96" cy="62.97" r="1.45" fill="#5b6275" fill-opacity="0.55" />
<circle cx="233.15" cy="69.74" r="1.45" fill="#5b6275" fill-opacity="0.55" />
<circle cx="236.06" cy="84.77" r="1.45" fill="#22366e" fill-opacity="0.55" />
<circle cx="232.92" cy="86.53" r="1.45" fill="#5b6275" fill-opacity="0.55" />
<circle cx="232.85" cy="86.82" r="1.45" fill="#22366e" fill-opacity="0.55" />
<circle cx="233.59" cy="63.77" r="1.45" fill="#22366e" fill-opacity="0.55" />
<circle cx="229.95" cy="89.66" r="1.45" fill="#3d4f86" fill-opacity="0.55" />
<circle cx="235.64" cy="67.47" r="1.45" fill="#3d4f86" fill-opacity="0.55" />
<circle cx="228.59" cy="73.91" r="1.45" fill="#3d4f86" fill-opacity="0.55" />
<circle cx="233.84" cy="79.82" r="1.45" fill="#3d4f86" fill-opacity="0.55" />
<circle cx="233.23" cy="63.05" r="1.45" fill="#22366e" fill-opacity="0.55" />
<circle cx="231.75" cy="60.53" r="1.45" fill="#22366e" fill-opacity="0.55" />
<circle cx="233.04" cy="68.62" r="1.45" fill="#3d4f86" fill-opacity="0.55" />
<circle cx="232.2" cy="60.38" r="1.45" fill="#22366e" fill-opacity="0.55" />
<circle cx="251.27" cy="80.46" r="1.45" fill="#22366e" fill-opacity="0.55" />
<circle cx="250.1" cy="78.79" r="1.45" fill="#5b6275" fill-opacity="0.55" />
<circle cx="251.19" cy="74.66" r="1.45" fill="#22366e" fill-opacity="0.55" />
<circle cx="249.45" cy="75.88" r="1.45" fill="#3d4f86" fill-opacity="0.55" />
<circle cx="254" cy="94.17" r="1.45" fill="#5b6275" fill-opacity="0.55" />
<circle cx="251.01" cy="72.04" r="1.45" fill="#3d4f86" fill-opacity="0.55" />
<circle cx="251.37" cy="90.19" r="1.45" fill="#5b6275" fill-opacity="0.55" />
<circle cx="252.46" cy="81.04" r="1.45" fill="#3d4f86" fill-opacity="0.55" />
<circle cx="252.04" cy="70.52" r="1.45" fill="#5b6275" fill-opacity="0.55" />
<circle cx="250.93" cy="72.86" r="1.45" fill="#22366e" fill-opacity="0.55" />
<circle cx="250.56" cy="68.89" r="1.45" fill="#5b6275" fill-opacity="0.55" />
<circle cx="251.39" cy="70.02" r="1.45" fill="#5b6275" fill-opacity="0.55" />
<circle cx="249.58" cy="66.2" r="1.45" fill="#5b6275" fill-opacity="0.55" />
<circle cx="252.54" cy="77.96" r="1.45" fill="#5b6275" fill-opacity="0.55" />
<circle cx="251.97" cy="82.7" r="1.45" fill="#22366e" fill-opacity="0.55" />
<circle cx="252.12" cy="91.98" r="1.45" fill="#5b6275" fill-opacity="0.55" />
<circle cx="287.5" cy="86.92" r="1.45" fill="#3d4f86" fill-opacity="0.6" />
<circle cx="288.34" cy="85.3" r="1.45" fill="#22366e" fill-opacity="0.6" />
<circle cx="288.81" cy="77.07" r="1.45" fill="#3d4f86" fill-opacity="0.6" />
<circle cx="286.31" cy="67.38" r="1.45" fill="#22366e" fill-opacity="0.6" />
<circle cx="287.65" cy="71.97" r="1.45" fill="#22366e" fill-opacity="0.6" />
<circle cx="289.52" cy="73.1" r="1.45" fill="#3d4f86" fill-opacity="0.6" />
<circle cx="290.73" cy="67.92" r="1.45" fill="#22366e" fill-opacity="0.6" />
<circle cx="285.96" cy="81.34" r="1.45" fill="#3d4f86" fill-opacity="0.6" />
<circle cx="286.95" cy="70.32" r="1.45" fill="#3d4f86" fill-opacity="0.6" />
<circle cx="290.35" cy="66.14" r="1.45" fill="#22366e" fill-opacity="0.6" />
<circle cx="287.07" cy="69.46" r="1.45" fill="#22366e" fill-opacity="0.6" />
<circle cx="287.65" cy="80.46" r="1.45" fill="#3d4f86" fill-opacity="0.6" />
<circle cx="288.09" cy="77.96" r="1.45" fill="#22366e" fill-opacity="0.6" />
<circle cx="287.89" cy="84.36" r="1.45" fill="#3d4f86" fill-opacity="0.6" />
<circle cx="285.01" cy="78.72" r="1.45" fill="#22366e" fill-opacity="0.6" />
<circle cx="285.92" cy="85.73" r="1.45" fill="#3d4f86" fill-opacity="0.6" />
<circle cx="289.33" cy="78.95" r="1.45" fill="#22366e" fill-opacity="0.6" />
<circle cx="287.75" cy="73.89" r="1.45" fill="#3d4f86" fill-opacity="0.6" />
<circle cx="288.95" cy="86.85" r="1.45" fill="#3d4f86" fill-opacity="0.6" />
<circle cx="288.24" cy="88.59" r="1.45" fill="#22366e" fill-opacity="0.6" />
<circle cx="286.32" cy="91.93" r="1.45" fill="#22366e" fill-opacity="0.6" />
<circle cx="289.09" cy="93.27" r="1.45" fill="#3d4f86" fill-opacity="0.6" />
<circle cx="288.61" cy="83.37" r="1.45" fill="#22366e" fill-opacity="0.6" />
<circle cx="286.22" cy="75.75" r="1.45" fill="#3d4f86" fill-opacity="0.6" />
<circle cx="287.09" cy="83.82" r="1.45" fill="#22366e" fill-opacity="0.6" />
<circle cx="287.16" cy="91.27" r="1.45" fill="#22366e" fill-opacity="0.6" />
<circle cx="228.6" cy="139.2" r="1.45" fill="#22366e" fill-opacity="0.8" />
<circle cx="230.1" cy="139.2" r="1.45" fill="#5b6275" fill-opacity="0.8" />
<circle cx="231.6" cy="139.2" r="1.45" fill="#5b6275" fill-opacity="0.8" />
<circle cx="233.1" cy="139.2" r="1.45" fill="#5b6275" fill-opacity="0.8" />
<circle cx="234.6" cy="139.2" r="1.45" fill="#22366e" fill-opacity="0.8" />
<circle cx="236.1" cy="139.2" r="1.45" fill="#22366e" fill-opacity="0.8" />
<circle cx="237.6" cy="139.2" r="1.45" fill="#22366e" fill-opacity="0.8" />
<circle cx="239.1" cy="139.2" r="1.45" fill="#5b6275" fill-opacity="0.8" />
<circle cx="240.6" cy="139.2" r="1.45" fill="#3d4f86" fill-opacity="0.8" />
<circle cx="242.1" cy="139.2" r="1.45" fill="#5b6275" fill-opacity="0.8" />
<circle cx="243.6" cy="139.2" r="1.45" fill="#5b6275" fill-opacity="0.8" />
<circle cx="245.1" cy="139.2" r="1.45" fill="#3d4f86" fill-opacity="0.8" />
<circle cx="246.6" cy="139.2" r="1.45" fill="#22366e" fill-opacity="0.8" />
<circle cx="248.1" cy="139.2" r="1.45" fill="#5b6275" fill-opacity="0.8" />
<circle cx="249.6" cy="139.2" r="1.45" fill="#3d4f86" fill-opacity="0.8" />
<circle cx="251.1" cy="139.2" r="1.45" fill="#22366e" fill-opacity="0.8" />
<circle cx="252.6" cy="139.2" r="1.45" fill="#3d4f86" fill-opacity="0.8" />
<circle cx="254.1" cy="139.2" r="1.45" fill="#3d4f86" fill-opacity="0.8" />
<circle cx="255.6" cy="139.2" r="1.45" fill="#5b6275" fill-opacity="0.8" />
<circle cx="257.1" cy="139.2" r="1.45" fill="#3d4f86" fill-opacity="0.8" />
<circle cx="258.6" cy="139.2" r="1.45" fill="#22366e" fill-opacity="0.8" />
<circle cx="278.7" cy="139.2" r="1.45" fill="#5b6275" fill-opacity="0.8" />
<circle cx="280.2" cy="139.2" r="1.45" fill="#5b6275" fill-opacity="0.8" />
<circle cx="281.7" cy="139.2" r="1.45" fill="#22366e" fill-opacity="0.8" />
<circle cx="283.2" cy="139.2" r="1.45" fill="#22366e" fill-opacity="0.8" />
<circle cx="284.7" cy="139.2" r="1.45" fill="#3d4f86" fill-opacity="0.8" />
<circle cx="286.2" cy="139.2" r="1.45" fill="#22366e" fill-opacity="0.8" />
<circle cx="287.7" cy="139.2" r="1.45" fill="#22366e" fill-opacity="0.8" />
<circle cx="289.2" cy="139.2" r="1.45" fill="#3d4f86" fill-opacity="0.8" />
<circle cx="290.7" cy="139.2" r="1.45" fill="#5b6275" fill-opacity="0.8" />
<circle cx="292.2" cy="139.2" r="1.45" fill="#5b6275" fill-opacity="0.8" />
<circle cx="293.7" cy="139.2" r="1.45" fill="#3d4f86" fill-opacity="0.8" />
<circle cx="295.2" cy="139.2" r="1.45" fill="#5b6275" fill-opacity="0.8" />
<circle cx="296.7" cy="139.2" r="1.45" fill="#3d4f86" fill-opacity="0.8" />
<circle cx="298.2" cy="139.2" r="1.45" fill="#22366e" fill-opacity="0.8" />
<circle cx="299.7" cy="139.2" r="1.45" fill="#5b6275" fill-opacity="0.8" />
<circle cx="301.2" cy="139.2" r="1.45" fill="#22366e" fill-opacity="0.8" />
<circle cx="302.7" cy="139.2" r="1.45" fill="#22366e" fill-opacity="0.8" />
<circle cx="309.6" cy="139.2" r="1.45" fill="#5b6275" fill-opacity="0.7" />
<line x1="397.9" y1="62" x2="397.9" y2="139" stroke="#4a5fa8" stroke-width="0.8" stroke-opacity="0.85"/>
<line x1="407.7" y1="66" x2="407.7" y2="139" stroke="#4a5fa8" stroke-width="0.8" stroke-opacity="0.85"/>
<line x1="409.5" y1="70" x2="409.5" y2="139" stroke="#b4bad6" stroke-width="0.6" stroke-opacity="0.85"/>
<line x1="412" y1="72" x2="412" y2="139" stroke="#8a90a8" stroke-width="0.6" stroke-opacity="0.85"/>
<line x1="395.5" y1="70" x2="395.5" y2="139" stroke="#b4bad6" stroke-width="0.6" stroke-opacity="0.85"/>
<line x1="423.8" y1="70" x2="423.8" y2="139" stroke="#4a5fa8" stroke-width="0.8" stroke-opacity="0.85"/>
<line x1="426" y1="76" x2="426" y2="139" stroke="#b4bad6" stroke-width="0.6" stroke-opacity="0.85"/>
<line x1="448.1" y1="72" x2="448.1" y2="139" stroke="#b4bad6" stroke-width="0.8" stroke-opacity="0.85"/>
<line x1="451" y1="70" x2="451" y2="139" stroke="#4a5fa8" stroke-width="0.8" stroke-opacity="0.85"/>
<line x1="460.2" y1="72" x2="460.2" y2="139" stroke="#7a70b0" stroke-width="0.8" stroke-opacity="0.85"/>
<line x1="467.1" y1="76" x2="467.1" y2="139" stroke="#8a90a8" stroke-width="0.8" stroke-opacity="0.85"/>
<line x1="470" y1="74" x2="470" y2="139" stroke="#b4bad6" stroke-width="0.7" stroke-opacity="0.85"/>
<line x1="475.2" y1="76" x2="475.2" y2="139" stroke="#8a90a8" stroke-width="0.7" stroke-opacity="0.85"/>
<line x1="444.5" y1="74" x2="444.5" y2="139" stroke="#b4bad6" stroke-width="0.6" stroke-opacity="0.85"/>
<rect x="399.8" y="58" width="5.2" height="81" fill="#857a88" stroke="none" stroke-width="1" fill-opacity="0.72"/>
<rect x="402" y="66" width="1.8" height="73" fill="#2d3b70" stroke="none" stroke-width="1" fill-opacity="0.5"/>
<rect x="417.2" y="66" width="4.6" height="73" fill="#8a8098" stroke="none" stroke-width="1" fill-opacity="0.7"/>
<rect x="419" y="70" width="1.6" height="69" fill="#2f3f78" stroke="none" stroke-width="1" fill-opacity="0.5"/>
<rect x="453.3" y="64" width="3.5" height="75" fill="#253d7c" stroke="none" stroke-width="1" fill-opacity="0.92"/>
<line x1="389.4" y1="61.4" x2="389.4" y2="84.4" stroke="#e8c0a0" stroke-width="0.7" stroke-opacity="0.9"/>
<line x1="433" y1="78" x2="433" y2="95" stroke="#8a90a8" stroke-width="0.7" stroke-opacity="0.9"/>
<line x1="472.9" y1="74" x2="472.9" y2="95" stroke="#b4bad6" stroke-width="0.7" stroke-opacity="0.9"/>
<line x1="478.1" y1="76" x2="478.1" y2="95" stroke="#b4bad6" stroke-width="0.7" stroke-opacity="0.9"/>
<line x1="410.6" y1="66" x2="410.6" y2="84" stroke="#e8c8b0" stroke-width="0.7" stroke-opacity="0.9"/>
<line x1="435.9" y1="64" x2="435.9" y2="80" stroke="#f0d0b0" stroke-width="0.7" stroke-opacity="0.9"/>
<circle cx="398.5" cy="45.8" r="1.45" fill="#3d4f86" fill-opacity="0.7" />
<circle cx="401.3" cy="41.2" r="1.45" fill="#3d4f86" fill-opacity="0.7" />
<circle cx="406" cy="41.8" r="1.45" fill="#5b6275" fill-opacity="0.75" />
<circle cx="411.1" cy="41.2" r="1.45" fill="#5b6275" fill-opacity="0.75" />
<circle cx="414.6" cy="40.6" r="1.45" fill="#3d4f86" fill-opacity="0.7" />
<circle cx="416.9" cy="44.1" r="1.45" fill="#3d4f86" fill-opacity="0.7" />
<circle cx="422.7" cy="44.1" r="1.45" fill="#5b6275" fill-opacity="0.75" />
<circle cx="426.7" cy="46.4" r="1.45" fill="#5b6275" fill-opacity="0.75" />
<circle cx="433" cy="44.6" r="1.45" fill="#5b6275" fill-opacity="0.75" />
<circle cx="435.4" cy="42.9" r="1.45" fill="#5b6275" fill-opacity="0.75" />
<circle cx="430.7" cy="49.8" r="1.45" fill="#5b6275" fill-opacity="0.75" />
<circle cx="422.1" cy="48.7" r="1.45" fill="#5b6275" fill-opacity="0.75" />
<circle cx="433" cy="53.9" r="1.45" fill="#5b6275" fill-opacity="0.75" />
<circle cx="429.6" cy="57.9" r="1.45" fill="#5b6275" fill-opacity="0.75" />
<circle cx="418" cy="48.7" r="1.45" fill="#3d4f86" fill-opacity="0.7" />
<circle cx="416.9" cy="53.3" r="1.45" fill="#5b6275" fill-opacity="0.75" />
<circle cx="411.1" cy="57.9" r="1.45" fill="#5b6275" fill-opacity="0.75" />
<circle cx="407.1" cy="52.1" r="1.45" fill="#5b6275" fill-opacity="0.75" />
<circle cx="398.5" cy="51" r="1.45" fill="#22366e" fill-opacity="0.85" />
<circle cx="425.6" cy="65.4" r="1.45" fill="#3d4f86" fill-opacity="0.7" />
<circle cx="426.7" cy="72.3" r="1.45" fill="#5b6275" fill-opacity="0.75" />
<circle cx="433" cy="85.6" r="1.45" fill="#5b6275" fill-opacity="0.75" />
<circle cx="389.4" cy="72.9" r="1.45" fill="#f0a040" fill-opacity="0.6" />
<circle cx="400.8" cy="62.5" r="1.45" fill="#f0a040" fill-opacity="0.6" />
<circle cx="410.6" cy="74" r="1.45" fill="#f0a040" fill-opacity="0.6" />
<circle cx="417.5" cy="68.3" r="1.45" fill="#f0a040" fill-opacity="0.6" />
<circle cx="435.9" cy="71.8" r="1.45" fill="#f0a040" fill-opacity="0.6" />
<circle cx="397.9" cy="90.9" r="1.45" fill="#5b6275" fill-opacity="0.75" />
<circle cx="461.4" cy="44.1" r="1.45" fill="#5b6275" fill-opacity="0.75" />
<circle cx="466.6" cy="49.3" r="1.45" fill="#5b6275" fill-opacity="0.75" />
<circle cx="448.1" cy="52.7" r="1.45" fill="#5b6275" fill-opacity="0.75" />
<circle cx="444.7" cy="57.3" r="1.45" fill="#5b6275" fill-opacity="0.75" />
<circle cx="455" cy="51" r="1.45" fill="#5b6275" fill-opacity="0.75" />
<circle cx="454.5" cy="56.8" r="1.45" fill="#5b6275" fill-opacity="0.75" />
<circle cx="453.3" cy="60.2" r="1.45" fill="#3d4f86" fill-opacity="0.7" />
<circle cx="452.1" cy="64.8" r="1.45" fill="#3d4f86" fill-opacity="0.7" />
<circle cx="456.2" cy="67.1" r="1.45" fill="#3d4f86" fill-opacity="0.7" />
<circle cx="453.3" cy="70.6" r="1.45" fill="#3d4f86" fill-opacity="0.7" />
<circle cx="460.2" cy="60.8" r="1.45" fill="#5b6275" fill-opacity="0.75" />
<circle cx="463.1" cy="74" r="1.45" fill="#5b6275" fill-opacity="0.75" />
<circle cx="470" cy="77" r="1.45" fill="#5b6275" fill-opacity="0.75" />
<circle cx="472.3" cy="82.7" r="1.45" fill="#5b6275" fill-opacity="0.75" />
<circle cx="478.7" cy="83.3" r="1.45" fill="#5b6275" fill-opacity="0.75" />
<circle cx="450.4" cy="81" r="1.45" fill="#22366e" fill-opacity="0.85" />
<circle cx="460.2" cy="86.2" r="1.45" fill="#5b6275" fill-opacity="0.75" />
<circle cx="399" cy="56" r="1.45" fill="#f0a040" fill-opacity="0.6" />
<circle cx="403" cy="47" r="1.45" fill="#22366e" fill-opacity="0.85" />
<circle cx="404" cy="54" r="1.45" fill="#3d4f86" fill-opacity="0.7" />
<circle cx="402" cy="70" r="1.45" fill="#3d4f86" fill-opacity="0.7" />
<circle cx="398" cy="76" r="1.45" fill="#22366e" fill-opacity="0.85" />
<circle cx="401" cy="82" r="1.45" fill="#3d4f86" fill-opacity="0.7" />
<circle cx="404" cy="88" r="1.45" fill="#5b6275" fill-opacity="0.75" />
<circle cx="419" cy="56" r="1.45" fill="#3d4f86" fill-opacity="0.7" />
<circle cx="420" cy="62" r="1.45" fill="#3d4f86" fill-opacity="0.7" />
<circle cx="418" cy="76" r="1.45" fill="#3d4f86" fill-opacity="0.7" />
<circle cx="421" cy="82" r="1.45" fill="#3d4f86" fill-opacity="0.7" />
<circle cx="419" cy="88" r="1.45" fill="#5b6275" fill-opacity="0.75" />
<circle cx="414" cy="64" r="1.45" fill="#5b6275" fill-opacity="0.75" />
<circle cx="408" cy="62" r="1.45" fill="#5b6275" fill-opacity="0.75" />
<circle cx="396" cy="60" r="1.45" fill="#3d4f86" fill-opacity="0.7" />
<circle cx="412" cy="50" r="1.45" fill="#5b6275" fill-opacity="0.75" />
<circle cx="426" cy="56" r="1.45" fill="#5b6275" fill-opacity="0.75" />
<circle cx="440" cy="47" r="1.45" fill="#5b6275" fill-opacity="0.75" />
<circle cx="455" cy="76" r="1.45" fill="#3d4f86" fill-opacity="0.7" />
<circle cx="455" cy="82" r="1.45" fill="#22366e" fill-opacity="0.85" />
<circle cx="458" cy="92" r="1.45" fill="#5b6275" fill-opacity="0.75" />
<line x1="398.6" y1="44" x2="398.6" y2="139" stroke="#22366e" stroke-width="0.9" stroke-opacity="0.8"/>
<line x1="403.6" y1="41" x2="403.6" y2="139" stroke="#22366e" stroke-width="0.8" stroke-opacity="0.7"/>
<circle cx="402.05" cy="75.29" r="1.45" fill="#5b6275" fill-opacity="0.55" />
<circle cx="402.91" cy="86.54" r="1.45" fill="#5b6275" fill-opacity="0.55" />
<circle cx="401.48" cy="68.27" r="1.45" fill="#22366e" fill-opacity="0.55" />
<circle cx="399.01" cy="83.57" r="1.45" fill="#3d4f86" fill-opacity="0.55" />
<circle cx="399.34" cy="44.74" r="1.45" fill="#22366e" fill-opacity="0.55" />
<circle cx="402.34" cy="90.76" r="1.45" fill="#3d4f86" fill-opacity="0.55" />
<circle cx="395.96" cy="82.62" r="1.45" fill="#5b6275" fill-opacity="0.55" />
<circle cx="402.83" cy="74.26" r="1.45" fill="#3d4f86" fill-opacity="0.55" />
<circle cx="402.72" cy="78.47" r="1.45" fill="#22366e" fill-opacity="0.55" />
<circle cx="400.26" cy="42.25" r="1.45" fill="#3d4f86" fill-opacity="0.55" />
<circle cx="403.4" cy="65.47" r="1.45" fill="#22366e" fill-opacity="0.55" />
<circle cx="403.39" cy="62.67" r="1.45" fill="#22366e" fill-opacity="0.55" />
<circle cx="400.97" cy="87.76" r="1.45" fill="#22366e" fill-opacity="0.55" />
<circle cx="401.21" cy="45.03" r="1.45" fill="#22366e" fill-opacity="0.55" />
<circle cx="401.88" cy="89.27" r="1.45" fill="#3d4f86" fill-opacity="0.55" />
<circle cx="404.87" cy="47.61" r="1.45" fill="#5b6275" fill-opacity="0.55" />
<circle cx="399.32" cy="59.43" r="1.45" fill="#22366e" fill-opacity="0.55" />
<circle cx="400.23" cy="88.93" r="1.45" fill="#5b6275" fill-opacity="0.55" />
<circle cx="399.76" cy="68.08" r="1.45" fill="#22366e" fill-opacity="0.55" />
<circle cx="404.64" cy="94.72" r="1.45" fill="#5b6275" fill-opacity="0.55" />
<circle cx="400.5" cy="49.58" r="1.45" fill="#5b6275" fill-opacity="0.55" />
<circle cx="403.82" cy="41.15" r="1.45" fill="#3d4f86" fill-opacity="0.55" />
<circle cx="398.28" cy="52.99" r="1.45" fill="#22366e" fill-opacity="0.55" />
<circle cx="399.97" cy="71.05" r="1.45" fill="#3d4f86" fill-opacity="0.55" />
<circle cx="401.21" cy="59.8" r="1.45" fill="#22366e" fill-opacity="0.55" />
<circle cx="401.69" cy="59.72" r="1.45" fill="#22366e" fill-opacity="0.55" />
<circle cx="400.83" cy="90.85" r="1.45" fill="#22366e" fill-opacity="0.55" />
<circle cx="401.77" cy="82.96" r="1.45" fill="#22366e" fill-opacity="0.55" />
<circle cx="401.03" cy="69.06" r="1.45" fill="#22366e" fill-opacity="0.55" />
<circle cx="401.17" cy="62.98" r="1.45" fill="#22366e" fill-opacity="0.55" />
<circle cx="402.88" cy="88.69" r="1.45" fill="#5b6275" fill-opacity="0.55" />
<circle cx="400.29" cy="68.33" r="1.45" fill="#22366e" fill-opacity="0.55" />
<circle cx="401.91" cy="71.34" r="1.45" fill="#5b6275" fill-opacity="0.55" />
<circle cx="400.33" cy="84.49" r="1.45" fill="#5b6275" fill-opacity="0.55" />
<circle cx="402.03" cy="87.08" r="1.45" fill="#22366e" fill-opacity="0.55" />
<circle cx="401.27" cy="42.88" r="1.45" fill="#22366e" fill-opacity="0.55" />
<circle cx="401.09" cy="59.26" r="1.45" fill="#22366e" fill-opacity="0.55" />
<circle cx="401.33" cy="94.11" r="1.45" fill="#5b6275" fill-opacity="0.55" />
<circle cx="401.64" cy="76.11" r="1.45" fill="#5b6275" fill-opacity="0.55" />
<circle cx="401.07" cy="42.53" r="1.45" fill="#22366e" fill-opacity="0.55" />
<circle cx="402.03" cy="49.31" r="1.45" fill="#22366e" fill-opacity="0.55" />
<circle cx="399.9" cy="73.47" r="1.45" fill="#5b6275" fill-opacity="0.55" />
<circle cx="397.36" cy="66.75" r="1.45" fill="#22366e" fill-opacity="0.55" />
<circle cx="401.14" cy="69.85" r="1.45" fill="#22366e" fill-opacity="0.55" />
<circle cx="402.44" cy="61.65" r="1.45" fill="#22366e" fill-opacity="0.55" />
<circle cx="420.72" cy="92.74" r="1.45" fill="#3d4f86" fill-opacity="0.5" />
<circle cx="418.89" cy="58.24" r="1.45" fill="#5b6275" fill-opacity="0.5" />
<circle cx="420.24" cy="66.63" r="1.45" fill="#5b6275" fill-opacity="0.5" />
<circle cx="416.07" cy="90.37" r="1.45" fill="#3d4f86" fill-opacity="0.5" />
<circle cx="420.98" cy="52.96" r="1.45" fill="#22366e" fill-opacity="0.5" />
<circle cx="419.26" cy="67.9" r="1.45" fill="#3d4f86" fill-opacity="0.5" />
<circle cx="419.18" cy="49.52" r="1.45" fill="#3d4f86" fill-opacity="0.5" />
<circle cx="418.59" cy="72.39" r="1.45" fill="#22366e" fill-opacity="0.5" />
<circle cx="418.4" cy="65.42" r="1.45" fill="#3d4f86" fill-opacity="0.5" />
<circle cx="418.36" cy="88.02" r="1.45" fill="#3d4f86" fill-opacity="0.5" />
<circle cx="418.39" cy="80.79" r="1.45" fill="#5b6275" fill-opacity="0.5" />
<circle cx="419.08" cy="70.74" r="1.45" fill="#5b6275" fill-opacity="0.5" />
<circle cx="417.1" cy="83.94" r="1.45" fill="#3d4f86" fill-opacity="0.5" />
<circle cx="416.87" cy="65.5" r="1.45" fill="#5b6275" fill-opacity="0.5" />
<circle cx="420.82" cy="54.59" r="1.45" fill="#5b6275" fill-opacity="0.5" />
<circle cx="419.38" cy="75.65" r="1.45" fill="#5b6275" fill-opacity="0.5" />
<circle cx="422.59" cy="48.05" r="1.45" fill="#22366e" fill-opacity="0.5" />
<circle cx="420.25" cy="94.53" r="1.45" fill="#5b6275" fill-opacity="0.5" />
<circle cx="420.87" cy="85.35" r="1.45" fill="#22366e" fill-opacity="0.5" />
<circle cx="419.6" cy="75.46" r="1.45" fill="#5b6275" fill-opacity="0.5" />
<circle cx="418.8" cy="75.14" r="1.45" fill="#22366e" fill-opacity="0.5" />
<circle cx="420.18" cy="80.27" r="1.45" fill="#5b6275" fill-opacity="0.5" />
<circle cx="454.77" cy="82.31" r="1.45" fill="#3d4f86" fill-opacity="0.5" />
<circle cx="457.2" cy="91.07" r="1.45" fill="#22366e" fill-opacity="0.5" />
<circle cx="455.93" cy="54.61" r="1.45" fill="#22366e" fill-opacity="0.5" />
<circle cx="455.4" cy="54.93" r="1.45" fill="#22366e" fill-opacity="0.5" />
<circle cx="455.32" cy="72.2" r="1.45" fill="#3d4f86" fill-opacity="0.5" />
<circle cx="454.13" cy="70.84" r="1.45" fill="#22366e" fill-opacity="0.5" />
<circle cx="453.16" cy="87.03" r="1.45" fill="#3d4f86" fill-opacity="0.5" />
<circle cx="455.06" cy="69.36" r="1.45" fill="#3d4f86" fill-opacity="0.5" />
<circle cx="455.41" cy="63.02" r="1.45" fill="#22366e" fill-opacity="0.5" />
<circle cx="454.76" cy="61.46" r="1.45" fill="#22366e" fill-opacity="0.5" />
<circle cx="453.58" cy="65.1" r="1.45" fill="#3d4f86" fill-opacity="0.5" />
<circle cx="452.74" cy="55.42" r="1.45" fill="#22366e" fill-opacity="0.5" />
<circle cx="452.54" cy="58.91" r="1.45" fill="#22366e" fill-opacity="0.5" />
<circle cx="454.44" cy="83.18" r="1.45" fill="#22366e" fill-opacity="0.5" />
<circle cx="397.79" cy="57.36" r="1.45" fill="#d8a070" fill-opacity="0.35" />
<circle cx="403.04" cy="68.44" r="1.45" fill="#d8a070" fill-opacity="0.35" />
<circle cx="400.61" cy="74.75" r="1.45" fill="#d8a070" fill-opacity="0.35" />
<circle cx="406.78" cy="50.19" r="1.45" fill="#d8a070" fill-opacity="0.35" />
<circle cx="400.28" cy="59.38" r="1.45" fill="#d8a070" fill-opacity="0.35" />
<circle cx="400.82" cy="54.36" r="1.45" fill="#d8a070" fill-opacity="0.35" />
<circle cx="397.3" cy="139.2" r="1.45" fill="#5b6275" fill-opacity="0.8" />
<circle cx="398.8" cy="139.2" r="1.45" fill="#3d4f86" fill-opacity="0.8" />
<circle cx="400.3" cy="139.2" r="1.45" fill="#3d4f86" fill-opacity="0.8" />
<circle cx="401.8" cy="139.2" r="1.45" fill="#5b6275" fill-opacity="0.8" />
<circle cx="403.3" cy="139.2" r="1.45" fill="#22366e" fill-opacity="0.8" />
<circle cx="404.8" cy="139.2" r="1.45" fill="#5b6275" fill-opacity="0.8" />
<circle cx="406.3" cy="139.2" r="1.45" fill="#22366e" fill-opacity="0.8" />
<circle cx="407.8" cy="139.2" r="1.45" fill="#5b6275" fill-opacity="0.8" />
<circle cx="416.9" cy="139.2" r="1.45" fill="#5b6275" fill-opacity="0.8" />
<circle cx="418.4" cy="139.2" r="1.45" fill="#22366e" fill-opacity="0.8" />
<circle cx="419.9" cy="139.2" r="1.45" fill="#3d4f86" fill-opacity="0.8" />
<circle cx="421.4" cy="139.2" r="1.45" fill="#3d4f86" fill-opacity="0.8" />
<circle cx="422.9" cy="139.2" r="1.45" fill="#5b6275" fill-opacity="0.8" />
<circle cx="424.4" cy="139.2" r="1.45" fill="#22366e" fill-opacity="0.8" />
<circle cx="447.5" cy="139.2" r="1.45" fill="#3d4f86" fill-opacity="0.8" />
<circle cx="449" cy="139.2" r="1.45" fill="#5b6275" fill-opacity="0.8" />
<circle cx="450.5" cy="139.2" r="1.45" fill="#22366e" fill-opacity="0.8" />
<circle cx="452" cy="139.2" r="1.45" fill="#22366e" fill-opacity="0.8" />
<circle cx="453.5" cy="139.2" r="1.45" fill="#5b6275" fill-opacity="0.8" />
<circle cx="455" cy="139.2" r="1.45" fill="#5b6275" fill-opacity="0.8" />
<circle cx="456.5" cy="139.2" r="1.45" fill="#5b6275" fill-opacity="0.8" />
<circle cx="458" cy="139.2" r="1.45" fill="#3d4f86" fill-opacity="0.8" />
<circle cx="459.5" cy="139.2" r="1.45" fill="#22366e" fill-opacity="0.8" />
<circle cx="461" cy="139.2" r="1.45" fill="#3d4f86" fill-opacity="0.8" />
<circle cx="462.5" cy="139.2" r="1.45" fill="#3d4f86" fill-opacity="0.8" />
<circle cx="466" cy="139.2" r="1.45" fill="#22366e" fill-opacity="0.8" />
<circle cx="467.5" cy="139.2" r="1.45" fill="#5b6275" fill-opacity="0.8" />
<circle cx="469" cy="139.2" r="1.45" fill="#22366e" fill-opacity="0.8" />
<circle cx="470.5" cy="139.2" r="1.45" fill="#3d4f86" fill-opacity="0.8" />
<circle cx="475.2" cy="139.2" r="1.45" fill="#5b6275" fill-opacity="0.8" />
<rect x="46.5" y="36.5" width="110.5" height="107" fill="none" stroke="#1a1a1a" stroke-width="1.2" />
<rect x="213.5" y="36.5" width="110.8" height="107" fill="none" stroke="#1a1a1a" stroke-width="1.2" />
<rect x="382" y="36.5" width="110.5" height="107" fill="none" stroke="#1a1a1a" stroke-width="1.2" />
<path d="M158.6,41.8 L159.6,41.8 L159.72,42.99 L159.86,44.63 L160.04,46.58 L160.27,48.67 L160.55,50.73 L160.9,52.6 L161.3,54.32 L161.76,56.03 L162.26,57.71 L162.83,59.35 L163.48,60.95 L164.2,62.5 L165.04,64.01 L166.01,65.5 L167.04,66.94 L168.1,68.32 L169.14,69.61 L170.1,70.8 L171.01,71.84 L171.93,72.75 L172.81,73.57 L173.65,74.36 L174.42,75.15 L175.1,76 L175.73,76.91 L176.34,77.85 L176.88,78.79 L177.3,79.73 L177.56,80.64 L177.6,81.5 L177.4,82.31 L176.99,83.07 L176.41,83.8 L175.71,84.52 L174.93,85.25 L174.1,86 L173.18,86.75 L172.11,87.48 L170.96,88.21 L169.78,88.98 L168.64,89.8 L167.6,90.7 L166.62,91.68 L165.66,92.73 L164.72,93.83 L163.86,94.97 L163.07,96.17 L162.4,97.4 L161.85,98.63 L161.42,99.87 L161.07,101.14 L160.78,102.51 L160.53,104.01 L160.3,105.7 L160.1,107.58 L159.95,109.61 L159.84,111.78 L159.75,114.07 L159.68,116.45 L159.6,118.9 L159.52,121.64 L159.43,124.72 L159.36,127.9 L159.31,130.92 L159.29,133.54 L159.3,135.5 L159.38,136.69 L159.51,137.27 L159.68,137.46 L159.84,137.43 L159.96,137.38 L160,137.5 L159.94,137.77 L159.81,138.03 L159.64,138.28 L159.46,138.49 L159.3,138.67 L159.2,138.8 L158.6,138.8 Z" fill="#4060a8" fill-opacity="0.78" stroke="#2a4890" stroke-width="0.7"/>
<path d="M158.6,41.8 L160,41.8 L160.13,42.99 L160.3,44.63 L160.5,46.58 L160.75,48.67 L161.05,50.73 L161.4,52.6 L161.8,54.32 L162.24,56.03 L162.72,57.71 L163.27,59.35 L163.9,60.95 L164.6,62.5 L165.43,64.01 L166.39,65.5 L167.42,66.94 L168.47,68.32 L169.48,69.61 L170.4,70.8 L171.25,71.86 L172.07,72.81 L172.86,73.67 L173.59,74.47 L174.24,75.24 L174.8,76 L175.29,76.72 L175.72,77.36 L176.08,77.96 L176.33,78.58 L176.45,79.24 L176.4,80 L176.16,80.87 L175.76,81.83 L175.22,82.84 L174.57,83.87 L173.86,84.86 L173.1,85.8 L172.26,86.65 L171.29,87.43 L170.25,88.19 L169.19,88.97 L168.16,89.79 L167.2,90.7 L166.29,91.69 L165.39,92.74 L164.51,93.84 L163.68,94.98 L162.94,96.17 L162.3,97.4 L161.78,98.63 L161.37,99.87 L161.04,101.14 L160.76,102.51 L160.52,104.01 L160.3,105.7 L160.1,107.58 L159.96,109.61 L159.84,111.78 L159.76,114.07 L159.68,116.45 L159.6,118.9 L159.52,121.64 L159.43,124.72 L159.36,127.9 L159.31,130.92 L159.29,133.54 L159.3,135.5 L159.38,136.69 L159.51,137.27 L159.68,137.46 L159.84,137.43 L159.96,137.38 L160,137.5 L159.94,137.77 L159.81,138.03 L159.64,138.28 L159.46,138.49 L159.3,138.67 L159.2,138.8 L158.6,138.8 Z" fill="#faa052" fill-opacity="0.65" stroke="#b8844e" stroke-width="0.7"/>
<path d="M325.6,41.8 L326.6,41.8 L326.87,42.97 L327.19,44.57 L327.6,46.48 L328.12,48.54 L328.78,50.63 L329.6,52.6 L330.68,54.54 L332.03,56.59 L333.51,58.65 L335.01,60.66 L336.41,62.54 L337.6,64.2 L338.59,65.61 L339.47,66.8 L340.26,67.87 L340.95,68.87 L341.56,69.89 L342.1,71 L342.58,72.19 L343.01,73.42 L343.35,74.66 L343.58,75.89 L343.67,77.11 L343.6,78.3 L343.33,79.46 L342.88,80.61 L342.29,81.75 L341.6,82.86 L340.86,83.95 L340.1,85 L339.3,85.99 L338.41,86.91 L337.48,87.81 L336.51,88.72 L335.54,89.67 L334.6,90.7 L333.65,91.82 L332.65,93 L331.65,94.22 L330.7,95.48 L329.83,96.74 L329.1,98 L328.5,99.28 L328,100.59 L327.58,101.91 L327.25,103.22 L326.99,104.49 L326.8,105.7 L326.69,106.83 L326.66,107.91 L326.71,108.96 L326.82,109.97 L326.99,110.98 L327.2,112 L327.44,112.98 L327.7,113.9 L328.02,114.82 L328.42,115.77 L328.94,116.82 L329.6,118 L330.46,119.39 L331.52,120.96 L332.69,122.61 L333.89,124.27 L335.06,125.83 L336.1,127.2 L337.04,128.37 L337.94,129.41 L338.8,130.36 L339.61,131.25 L340.38,132.12 L341.1,133 L341.82,133.92 L342.55,134.86 L343.24,135.77 L343.81,136.62 L344.22,137.38 L344.4,138 L344.25,138.47 L343.81,138.81 L343.21,139.06 L342.55,139.24 L341.98,139.38 L341.6,139.5 L325.6,139.5 Z" fill="#4060a8" fill-opacity="0.78" stroke="#2a4890" stroke-width="0.7"/>
<path d="M325.6,41.8 L327,41.8 L327.32,42.97 L327.73,44.57 L328.23,46.48 L328.83,48.54 L329.52,50.63 L330.3,52.6 L331.27,54.55 L332.44,56.62 L333.71,58.71 L334.96,60.73 L336.09,62.59 L337,64.2 L337.67,65.49 L338.18,66.53 L338.57,67.41 L338.88,68.22 L339.14,69.05 L339.4,70 L339.67,71.06 L339.91,72.15 L340.11,73.26 L340.24,74.39 L340.28,75.5 L340.2,76.6 L339.99,77.66 L339.67,78.7 L339.25,79.73 L338.76,80.78 L338.2,81.86 L337.6,83 L336.91,84.21 L336.1,85.49 L335.24,86.79 L334.36,88.11 L333.53,89.42 L332.8,90.7 L332.14,91.94 L331.52,93.15 L330.94,94.35 L330.41,95.55 L329.96,96.76 L329.6,98 L329.34,99.28 L329.16,100.59 L329.06,101.91 L329.01,103.22 L329,104.49 L329,105.7 L329.02,106.83 L329.08,107.91 L329.17,108.96 L329.29,109.97 L329.43,110.98 L329.6,112 L329.76,112.98 L329.9,113.9 L330.08,114.82 L330.31,115.77 L330.64,116.82 L331.1,118 L331.74,119.39 L332.53,120.96 L333.41,122.61 L334.34,124.27 L335.26,125.83 L336.1,127.2 L336.89,128.37 L337.69,129.41 L338.46,130.36 L339.21,131.25 L339.93,132.12 L340.6,133 L341.28,133.92 L342,134.86 L342.68,135.77 L343.26,136.62 L343.65,137.38 L343.8,138 L343.6,138.47 L343.09,138.81 L342.4,139.06 L341.67,139.24 L341.02,139.38 L340.6,139.5 L325.6,139.5 Z" fill="#faa052" fill-opacity="0.65" stroke="#b8844e" stroke-width="0.7"/>
<path d="M493.6,41.5 L501.3,41.5 L501.41,42.1 L501.57,42.92 L501.76,43.9 L501.96,44.96 L502.14,46.01 L502.3,47 L502.43,47.91 L502.55,48.79 L502.66,49.68 L502.75,50.6 L502.83,51.56 L502.9,52.6 L502.95,53.71 L503,54.87 L503.03,56.08 L503.04,57.33 L503.03,58.64 L503,60 L502.95,61.45 L502.89,62.99 L502.8,64.58 L502.69,66.17 L502.56,67.73 L502.4,69.2 L502.21,70.57 L501.98,71.87 L501.73,73.13 L501.46,74.38 L501.18,75.66 L500.9,77 L500.62,78.44 L500.34,79.96 L500.05,81.5 L499.75,83.02 L499.43,84.47 L499.1,85.8 L498.74,86.97 L498.35,88.03 L497.95,89.01 L497.55,89.97 L497.16,90.95 L496.8,92 L496.46,93.07 L496.13,94.1 L495.81,95.16 L495.51,96.3 L495.24,97.56 L495,99 L494.79,100.74 L494.61,102.76 L494.45,104.9 L494.33,107.02 L494.24,108.97 L494.2,110.6 L494.21,111.85 L494.28,112.83 L494.39,113.64 L494.52,114.37 L494.66,115.13 L494.8,116 L494.92,116.94 L495.02,117.87 L495.13,118.81 L495.28,119.82 L495.5,120.94 L495.8,122.2 L496.22,123.7 L496.73,125.41 L497.31,127.22 L497.91,129.04 L498.52,130.73 L499.1,132.2 L499.71,133.46 L500.39,134.6 L501.07,135.63 L501.68,136.54 L502.15,137.33 L502.4,138 L502.37,138.52 L502.11,138.87 L501.71,139.11 L501.26,139.27 L500.85,139.39 L500.6,139.5 L493.6,139.5 Z" fill="#4060a8" fill-opacity="0.78" stroke="#2a4890" stroke-width="0.7"/>
<path d="M493.6,41.5 L498.4,41.5 L498.53,42.1 L498.69,42.92 L498.89,43.9 L499.14,44.96 L499.48,46.01 L499.9,47 L500.45,47.95 L501.11,48.92 L501.84,49.9 L502.61,50.86 L503.38,51.76 L504.1,52.6 L504.79,53.34 L505.5,54.01 L506.2,54.63 L506.88,55.23 L507.52,55.84 L508.1,56.5 L508.61,57.2 L509.06,57.91 L509.48,58.63 L509.87,59.37 L510.27,60.13 L510.7,60.9 L511.2,61.71 L511.77,62.56 L512.35,63.42 L512.87,64.28 L513.27,65.11 L513.5,65.9 L513.51,66.65 L513.35,67.39 L513.07,68.11 L512.73,68.79 L512.39,69.42 L512.1,70 L511.9,70.48 L511.74,70.86 L511.58,71.19 L511.36,71.54 L511.05,71.96 L510.6,72.5 L509.94,73.21 L509.1,74.04 L508.16,74.95 L507.2,75.87 L506.32,76.74 L505.6,77.5 L505.08,78.13 L504.69,78.66 L504.38,79.14 L504.07,79.62 L503.7,80.16 L503.2,80.8 L502.54,81.51 L501.75,82.25 L500.91,83.04 L500.06,83.91 L499.27,84.89 L498.6,86 L498.05,87.27 L497.57,88.68 L497.16,90.2 L496.78,91.79 L496.43,93.4 L496.1,95 L495.77,96.55 L495.45,98.07 L495.16,99.62 L494.91,101.26 L494.72,103.03 L494.6,105 L494.53,107.25 L494.51,109.74 L494.54,112.38 L494.64,115.04 L494.82,117.62 L495.1,120 L495.52,122.24 L496.06,124.44 L496.69,126.56 L497.36,128.56 L498.01,130.38 L498.6,132 L499.18,133.4 L499.79,134.61 L500.38,135.66 L500.91,136.56 L501.34,137.33 L501.6,138 L501.65,138.53 L501.53,138.89 L501.29,139.12 L501.01,139.28 L500.76,139.39 L500.6,139.5 L493.6,139.5 Z" fill="#faa052" fill-opacity="0.65" stroke="#b8844e" stroke-width="0.7"/>
<text transform="translate(65.15,196)" font-size="7.8" text-anchor="middle" fill="#262626" font-weight="normal" font-style="italic">unadjusted</text>
<line x1="43.1" y1="204.2" x2="46.3" y2="204.2" stroke="#1a1a1a" stroke-width="0.9" />
<text transform="translate(39.9,206.3)" font-size="6.0" text-anchor="end" fill="#3c3c3c" font-weight="normal" font-style="normal" stroke="#3c3c3c" stroke-width="0.12">1</text>
<line x1="43.1" y1="223.6" x2="46.3" y2="223.6" stroke="#1a1a1a" stroke-width="0.9" />
<text transform="translate(39.9,225.7)" font-size="6.0" text-anchor="end" fill="#3c3c3c" font-weight="normal" font-style="normal" stroke="#3c3c3c" stroke-width="0.12">0.1</text>
<line x1="43.1" y1="243" x2="46.3" y2="243" stroke="#1a1a1a" stroke-width="0.9" />
<text transform="translate(39.9,245.1)" font-size="6.0" text-anchor="end" fill="#3c3c3c" font-weight="normal" font-style="normal" stroke="#3c3c3c" stroke-width="0.12">0.01</text>
<line x1="43.1" y1="262.4" x2="46.3" y2="262.4" stroke="#1a1a1a" stroke-width="0.9" />
<text transform="translate(39.9,264.5)" font-size="6.0" text-anchor="end" fill="#3c3c3c" font-weight="normal" font-style="normal" stroke="#3c3c3c" stroke-width="0.12">0.001</text>
<line x1="43.1" y1="281.8" x2="46.3" y2="281.8" stroke="#1a1a1a" stroke-width="0.9" />
<text transform="translate(39.9,283.9)" font-size="6.0" text-anchor="end" fill="#3c3c3c" font-weight="normal" font-style="normal" stroke="#3c3c3c" stroke-width="0.12">1e−04</text>
<line x1="47.55" y1="286" x2="47.55" y2="289" stroke="#1a1a1a" stroke-width="0.9" />
<text transform="translate(49.65,292.2) rotate(-90)" font-size="5.9" text-anchor="end" fill="#3c3c3c" font-weight="normal" font-style="normal" stroke="#3c3c3c" stroke-width="0.12">1e−05</text>
<line x1="54.97" y1="286" x2="54.97" y2="289" stroke="#1a1a1a" stroke-width="0.9" />
<text transform="translate(57.07,292.2) rotate(-90)" font-size="5.9" text-anchor="end" fill="#3c3c3c" font-weight="normal" font-style="normal" stroke="#3c3c3c" stroke-width="0.12">1e−04</text>
<line x1="62.39" y1="286" x2="62.39" y2="289" stroke="#1a1a1a" stroke-width="0.9" />
<text transform="translate(64.49,292.2) rotate(-90)" font-size="5.9" text-anchor="end" fill="#3c3c3c" font-weight="normal" font-style="normal" stroke="#3c3c3c" stroke-width="0.12">0.001</text>
<line x1="69.81" y1="286" x2="69.81" y2="289" stroke="#1a1a1a" stroke-width="0.9" />
<text transform="translate(71.91,292.2) rotate(-90)" font-size="5.9" text-anchor="end" fill="#3c3c3c" font-weight="normal" font-style="normal" stroke="#3c3c3c" stroke-width="0.12">0.01</text>
<line x1="77.23" y1="286" x2="77.23" y2="289" stroke="#1a1a1a" stroke-width="0.9" />
<text transform="translate(79.33,292.2) rotate(-90)" font-size="5.9" text-anchor="end" fill="#3c3c3c" font-weight="normal" font-style="normal" stroke="#3c3c3c" stroke-width="0.12">0.1</text>
<line x1="43.1" y1="350.9" x2="46.3" y2="350.9" stroke="#1a1a1a" stroke-width="0.9" />
<text transform="translate(39.9,353)" font-size="6.0" text-anchor="end" fill="#3c3c3c" font-weight="normal" font-style="normal" stroke="#3c3c3c" stroke-width="0.12">100</text>
<line x1="43.1" y1="370.3" x2="46.3" y2="370.3" stroke="#1a1a1a" stroke-width="0.9" />
<text transform="translate(39.9,372.4)" font-size="6.0" text-anchor="end" fill="#3c3c3c" font-weight="normal" font-style="normal" stroke="#3c3c3c" stroke-width="0.12">10</text>
<line x1="43.1" y1="389.7" x2="46.3" y2="389.7" stroke="#1a1a1a" stroke-width="0.9" />
<text transform="translate(39.9,391.8)" font-size="6.0" text-anchor="end" fill="#3c3c3c" font-weight="normal" font-style="normal" stroke="#3c3c3c" stroke-width="0.12">1</text>
<line x1="43.1" y1="409.1" x2="46.3" y2="409.1" stroke="#1a1a1a" stroke-width="0.9" />
<text transform="translate(39.9,411.2)" font-size="6.0" text-anchor="end" fill="#3c3c3c" font-weight="normal" font-style="normal" stroke="#3c3c3c" stroke-width="0.12">0.1</text>
<line x1="43.1" y1="428.5" x2="46.3" y2="428.5" stroke="#1a1a1a" stroke-width="0.9" />
<text transform="translate(39.9,430.6)" font-size="6.0" text-anchor="end" fill="#3c3c3c" font-weight="normal" font-style="normal" stroke="#3c3c3c" stroke-width="0.12">0.01</text>
<line x1="47.55" y1="432.4" x2="47.55" y2="435.4" stroke="#1a1a1a" stroke-width="0.9" />
<text transform="translate(49.65,438.6) rotate(-90)" font-size="5.9" text-anchor="end" fill="#3c3c3c" font-weight="normal" font-style="normal" stroke="#3c3c3c" stroke-width="0.12">1e−05</text>
<line x1="54.97" y1="432.4" x2="54.97" y2="435.4" stroke="#1a1a1a" stroke-width="0.9" />
<text transform="translate(57.07,438.6) rotate(-90)" font-size="5.9" text-anchor="end" fill="#3c3c3c" font-weight="normal" font-style="normal" stroke="#3c3c3c" stroke-width="0.12">1e−04</text>
<line x1="62.39" y1="432.4" x2="62.39" y2="435.4" stroke="#1a1a1a" stroke-width="0.9" />
<text transform="translate(64.49,438.6) rotate(-90)" font-size="5.9" text-anchor="end" fill="#3c3c3c" font-weight="normal" font-style="normal" stroke="#3c3c3c" stroke-width="0.12">0.001</text>
<line x1="69.81" y1="432.4" x2="69.81" y2="435.4" stroke="#1a1a1a" stroke-width="0.9" />
<text transform="translate(71.91,438.6) rotate(-90)" font-size="5.9" text-anchor="end" fill="#3c3c3c" font-weight="normal" font-style="normal" stroke="#3c3c3c" stroke-width="0.12">0.01</text>
<line x1="77.23" y1="432.4" x2="77.23" y2="435.4" stroke="#1a1a1a" stroke-width="0.9" />
<text transform="translate(79.33,438.6) rotate(-90)" font-size="5.9" text-anchor="end" fill="#3c3c3c" font-weight="normal" font-style="normal" stroke="#3c3c3c" stroke-width="0.12">0.1</text>
<text transform="translate(137.8,196)" font-size="7.8" text-anchor="middle" fill="#262626" font-weight="normal" font-style="italic">adjusted</text>
<line x1="115.4" y1="204.2" x2="118.6" y2="204.2" stroke="#1a1a1a" stroke-width="0.9" />
<text transform="translate(112.2,206.3)" font-size="6.0" text-anchor="end" fill="#3c3c3c" font-weight="normal" font-style="normal" stroke="#3c3c3c" stroke-width="0.12">1</text>
<line x1="115.4" y1="223.6" x2="118.6" y2="223.6" stroke="#1a1a1a" stroke-width="0.9" />
<text transform="translate(112.2,225.7)" font-size="6.0" text-anchor="end" fill="#3c3c3c" font-weight="normal" font-style="normal" stroke="#3c3c3c" stroke-width="0.12">0.1</text>
<line x1="115.4" y1="243" x2="118.6" y2="243" stroke="#1a1a1a" stroke-width="0.9" />
<text transform="translate(112.2,245.1)" font-size="6.0" text-anchor="end" fill="#3c3c3c" font-weight="normal" font-style="normal" stroke="#3c3c3c" stroke-width="0.12">0.01</text>
<line x1="115.4" y1="262.4" x2="118.6" y2="262.4" stroke="#1a1a1a" stroke-width="0.9" />
<text transform="translate(112.2,264.5)" font-size="6.0" text-anchor="end" fill="#3c3c3c" font-weight="normal" font-style="normal" stroke="#3c3c3c" stroke-width="0.12">0.001</text>
<line x1="115.4" y1="281.8" x2="118.6" y2="281.8" stroke="#1a1a1a" stroke-width="0.9" />
<text transform="translate(112.2,283.9)" font-size="6.0" text-anchor="end" fill="#3c3c3c" font-weight="normal" font-style="normal" stroke="#3c3c3c" stroke-width="0.12">1e−04</text>
<line x1="119.85" y1="286" x2="119.85" y2="289" stroke="#1a1a1a" stroke-width="0.9" />
<text transform="translate(121.95,292.2) rotate(-90)" font-size="5.9" text-anchor="end" fill="#3c3c3c" font-weight="normal" font-style="normal" stroke="#3c3c3c" stroke-width="0.12">1e−05</text>
<line x1="127.27" y1="286" x2="127.27" y2="289" stroke="#1a1a1a" stroke-width="0.9" />
<text transform="translate(129.37,292.2) rotate(-90)" font-size="5.9" text-anchor="end" fill="#3c3c3c" font-weight="normal" font-style="normal" stroke="#3c3c3c" stroke-width="0.12">1e−04</text>
<line x1="134.69" y1="286" x2="134.69" y2="289" stroke="#1a1a1a" stroke-width="0.9" />
<text transform="translate(136.79,292.2) rotate(-90)" font-size="5.9" text-anchor="end" fill="#3c3c3c" font-weight="normal" font-style="normal" stroke="#3c3c3c" stroke-width="0.12">0.001</text>
<line x1="142.11" y1="286" x2="142.11" y2="289" stroke="#1a1a1a" stroke-width="0.9" />
<text transform="translate(144.21,292.2) rotate(-90)" font-size="5.9" text-anchor="end" fill="#3c3c3c" font-weight="normal" font-style="normal" stroke="#3c3c3c" stroke-width="0.12">0.01</text>
<line x1="149.53" y1="286" x2="149.53" y2="289" stroke="#1a1a1a" stroke-width="0.9" />
<text transform="translate(151.63,292.2) rotate(-90)" font-size="5.9" text-anchor="end" fill="#3c3c3c" font-weight="normal" font-style="normal" stroke="#3c3c3c" stroke-width="0.12">0.1</text>
<line x1="115.4" y1="350.9" x2="118.6" y2="350.9" stroke="#1a1a1a" stroke-width="0.9" />
<text transform="translate(112.2,353)" font-size="6.0" text-anchor="end" fill="#3c3c3c" font-weight="normal" font-style="normal" stroke="#3c3c3c" stroke-width="0.12">100</text>
<line x1="115.4" y1="370.3" x2="118.6" y2="370.3" stroke="#1a1a1a" stroke-width="0.9" />
<text transform="translate(112.2,372.4)" font-size="6.0" text-anchor="end" fill="#3c3c3c" font-weight="normal" font-style="normal" stroke="#3c3c3c" stroke-width="0.12">10</text>
<line x1="115.4" y1="389.7" x2="118.6" y2="389.7" stroke="#1a1a1a" stroke-width="0.9" />
<text transform="translate(112.2,391.8)" font-size="6.0" text-anchor="end" fill="#3c3c3c" font-weight="normal" font-style="normal" stroke="#3c3c3c" stroke-width="0.12">1</text>
<line x1="115.4" y1="409.1" x2="118.6" y2="409.1" stroke="#1a1a1a" stroke-width="0.9" />
<text transform="translate(112.2,411.2)" font-size="6.0" text-anchor="end" fill="#3c3c3c" font-weight="normal" font-style="normal" stroke="#3c3c3c" stroke-width="0.12">0.1</text>
<line x1="115.4" y1="428.5" x2="118.6" y2="428.5" stroke="#1a1a1a" stroke-width="0.9" />
<text transform="translate(112.2,430.6)" font-size="6.0" text-anchor="end" fill="#3c3c3c" font-weight="normal" font-style="normal" stroke="#3c3c3c" stroke-width="0.12">0.01</text>
<line x1="119.85" y1="432.4" x2="119.85" y2="435.4" stroke="#1a1a1a" stroke-width="0.9" />
<text transform="translate(121.95,438.6) rotate(-90)" font-size="5.9" text-anchor="end" fill="#3c3c3c" font-weight="normal" font-style="normal" stroke="#3c3c3c" stroke-width="0.12">1e−05</text>
<line x1="127.27" y1="432.4" x2="127.27" y2="435.4" stroke="#1a1a1a" stroke-width="0.9" />
<text transform="translate(129.37,438.6) rotate(-90)" font-size="5.9" text-anchor="end" fill="#3c3c3c" font-weight="normal" font-style="normal" stroke="#3c3c3c" stroke-width="0.12">1e−04</text>
<line x1="134.69" y1="432.4" x2="134.69" y2="435.4" stroke="#1a1a1a" stroke-width="0.9" />
<text transform="translate(136.79,438.6) rotate(-90)" font-size="5.9" text-anchor="end" fill="#3c3c3c" font-weight="normal" font-style="normal" stroke="#3c3c3c" stroke-width="0.12">0.001</text>
<line x1="142.11" y1="432.4" x2="142.11" y2="435.4" stroke="#1a1a1a" stroke-width="0.9" />
<text transform="translate(144.21,438.6) rotate(-90)" font-size="5.9" text-anchor="end" fill="#3c3c3c" font-weight="normal" font-style="normal" stroke="#3c3c3c" stroke-width="0.12">0.01</text>
<line x1="149.53" y1="432.4" x2="149.53" y2="435.4" stroke="#1a1a1a" stroke-width="0.9" />
<text transform="translate(151.63,438.6) rotate(-90)" font-size="5.9" text-anchor="end" fill="#3c3c3c" font-weight="normal" font-style="normal" stroke="#3c3c3c" stroke-width="0.12">0.1</text>
<text transform="translate(232.55,196)" font-size="7.8" text-anchor="middle" fill="#262626" font-weight="normal" font-style="italic">unadjusted</text>
<line x1="210.4" y1="204.2" x2="213.6" y2="204.2" stroke="#1a1a1a" stroke-width="0.9" />
<text transform="translate(207.2,206.3)" font-size="6.0" text-anchor="end" fill="#3c3c3c" font-weight="normal" font-style="normal" stroke="#3c3c3c" stroke-width="0.12">1</text>
<line x1="210.4" y1="223.6" x2="213.6" y2="223.6" stroke="#1a1a1a" stroke-width="0.9" />
<text transform="translate(207.2,225.7)" font-size="6.0" text-anchor="end" fill="#3c3c3c" font-weight="normal" font-style="normal" stroke="#3c3c3c" stroke-width="0.12">0.1</text>
<line x1="210.4" y1="243" x2="213.6" y2="243" stroke="#1a1a1a" stroke-width="0.9" />
<text transform="translate(207.2,245.1)" font-size="6.0" text-anchor="end" fill="#3c3c3c" font-weight="normal" font-style="normal" stroke="#3c3c3c" stroke-width="0.12">0.01</text>
<line x1="210.4" y1="262.4" x2="213.6" y2="262.4" stroke="#1a1a1a" stroke-width="0.9" />
<text transform="translate(207.2,264.5)" font-size="6.0" text-anchor="end" fill="#3c3c3c" font-weight="normal" font-style="normal" stroke="#3c3c3c" stroke-width="0.12">0.001</text>
<line x1="210.4" y1="281.8" x2="213.6" y2="281.8" stroke="#1a1a1a" stroke-width="0.9" />
<text transform="translate(207.2,283.9)" font-size="6.0" text-anchor="end" fill="#3c3c3c" font-weight="normal" font-style="normal" stroke="#3c3c3c" stroke-width="0.12">1e−04</text>
<line x1="214.85" y1="286" x2="214.85" y2="289" stroke="#1a1a1a" stroke-width="0.9" />
<text transform="translate(216.95,292.2) rotate(-90)" font-size="5.9" text-anchor="end" fill="#3c3c3c" font-weight="normal" font-style="normal" stroke="#3c3c3c" stroke-width="0.12">1e−05</text>
<line x1="222.27" y1="286" x2="222.27" y2="289" stroke="#1a1a1a" stroke-width="0.9" />
<text transform="translate(224.37,292.2) rotate(-90)" font-size="5.9" text-anchor="end" fill="#3c3c3c" font-weight="normal" font-style="normal" stroke="#3c3c3c" stroke-width="0.12">1e−04</text>
<line x1="229.69" y1="286" x2="229.69" y2="289" stroke="#1a1a1a" stroke-width="0.9" />
<text transform="translate(231.79,292.2) rotate(-90)" font-size="5.9" text-anchor="end" fill="#3c3c3c" font-weight="normal" font-style="normal" stroke="#3c3c3c" stroke-width="0.12">0.001</text>
<line x1="237.11" y1="286" x2="237.11" y2="289" stroke="#1a1a1a" stroke-width="0.9" />
<text transform="translate(239.21,292.2) rotate(-90)" font-size="5.9" text-anchor="end" fill="#3c3c3c" font-weight="normal" font-style="normal" stroke="#3c3c3c" stroke-width="0.12">0.01</text>
<line x1="244.53" y1="286" x2="244.53" y2="289" stroke="#1a1a1a" stroke-width="0.9" />
<text transform="translate(246.63,292.2) rotate(-90)" font-size="5.9" text-anchor="end" fill="#3c3c3c" font-weight="normal" font-style="normal" stroke="#3c3c3c" stroke-width="0.12">0.1</text>
<line x1="210.4" y1="350.9" x2="213.6" y2="350.9" stroke="#1a1a1a" stroke-width="0.9" />
<text transform="translate(207.2,353)" font-size="6.0" text-anchor="end" fill="#3c3c3c" font-weight="normal" font-style="normal" stroke="#3c3c3c" stroke-width="0.12">100</text>
<line x1="210.4" y1="370.3" x2="213.6" y2="370.3" stroke="#1a1a1a" stroke-width="0.9" />
<text transform="translate(207.2,372.4)" font-size="6.0" text-anchor="end" fill="#3c3c3c" font-weight="normal" font-style="normal" stroke="#3c3c3c" stroke-width="0.12">10</text>
<line x1="210.4" y1="389.7" x2="213.6" y2="389.7" stroke="#1a1a1a" stroke-width="0.9" />
<text transform="translate(207.2,391.8)" font-size="6.0" text-anchor="end" fill="#3c3c3c" font-weight="normal" font-style="normal" stroke="#3c3c3c" stroke-width="0.12">1</text>
<line x1="210.4" y1="409.1" x2="213.6" y2="409.1" stroke="#1a1a1a" stroke-width="0.9" />
<text transform="translate(207.2,411.2)" font-size="6.0" text-anchor="end" fill="#3c3c3c" font-weight="normal" font-style="normal" stroke="#3c3c3c" stroke-width="0.12">0.1</text>
<line x1="210.4" y1="428.5" x2="213.6" y2="428.5" stroke="#1a1a1a" stroke-width="0.9" />
<text transform="translate(207.2,430.6)" font-size="6.0" text-anchor="end" fill="#3c3c3c" font-weight="normal" font-style="normal" stroke="#3c3c3c" stroke-width="0.12">0.01</text>
<line x1="214.85" y1="432.4" x2="214.85" y2="435.4" stroke="#1a1a1a" stroke-width="0.9" />
<text transform="translate(216.95,438.6) rotate(-90)" font-size="5.9" text-anchor="end" fill="#3c3c3c" font-weight="normal" font-style="normal" stroke="#3c3c3c" stroke-width="0.12">1e−05</text>
<line x1="222.27" y1="432.4" x2="222.27" y2="435.4" stroke="#1a1a1a" stroke-width="0.9" />
<text transform="translate(224.37,438.6) rotate(-90)" font-size="5.9" text-anchor="end" fill="#3c3c3c" font-weight="normal" font-style="normal" stroke="#3c3c3c" stroke-width="0.12">1e−04</text>
<line x1="229.69" y1="432.4" x2="229.69" y2="435.4" stroke="#1a1a1a" stroke-width="0.9" />
<text transform="translate(231.79,438.6) rotate(-90)" font-size="5.9" text-anchor="end" fill="#3c3c3c" font-weight="normal" font-style="normal" stroke="#3c3c3c" stroke-width="0.12">0.001</text>
<line x1="237.11" y1="432.4" x2="237.11" y2="435.4" stroke="#1a1a1a" stroke-width="0.9" />
<text transform="translate(239.21,438.6) rotate(-90)" font-size="5.9" text-anchor="end" fill="#3c3c3c" font-weight="normal" font-style="normal" stroke="#3c3c3c" stroke-width="0.12">0.01</text>
<line x1="244.53" y1="432.4" x2="244.53" y2="435.4" stroke="#1a1a1a" stroke-width="0.9" />
<text transform="translate(246.63,438.6) rotate(-90)" font-size="5.9" text-anchor="end" fill="#3c3c3c" font-weight="normal" font-style="normal" stroke="#3c3c3c" stroke-width="0.12">0.1</text>
<text transform="translate(304.85,196)" font-size="7.8" text-anchor="middle" fill="#262626" font-weight="normal" font-style="italic">adjusted</text>
<line x1="282.6" y1="204.2" x2="285.8" y2="204.2" stroke="#1a1a1a" stroke-width="0.9" />
<text transform="translate(279.4,206.3)" font-size="6.0" text-anchor="end" fill="#3c3c3c" font-weight="normal" font-style="normal" stroke="#3c3c3c" stroke-width="0.12">1</text>
<line x1="282.6" y1="223.6" x2="285.8" y2="223.6" stroke="#1a1a1a" stroke-width="0.9" />
<text transform="translate(279.4,225.7)" font-size="6.0" text-anchor="end" fill="#3c3c3c" font-weight="normal" font-style="normal" stroke="#3c3c3c" stroke-width="0.12">0.1</text>
<line x1="282.6" y1="243" x2="285.8" y2="243" stroke="#1a1a1a" stroke-width="0.9" />
<text transform="translate(279.4,245.1)" font-size="6.0" text-anchor="end" fill="#3c3c3c" font-weight="normal" font-style="normal" stroke="#3c3c3c" stroke-width="0.12">0.01</text>
<line x1="282.6" y1="262.4" x2="285.8" y2="262.4" stroke="#1a1a1a" stroke-width="0.9" />
<text transform="translate(279.4,264.5)" font-size="6.0" text-anchor="end" fill="#3c3c3c" font-weight="normal" font-style="normal" stroke="#3c3c3c" stroke-width="0.12">0.001</text>
<line x1="282.6" y1="281.8" x2="285.8" y2="281.8" stroke="#1a1a1a" stroke-width="0.9" />
<text transform="translate(279.4,283.9)" font-size="6.0" text-anchor="end" fill="#3c3c3c" font-weight="normal" font-style="normal" stroke="#3c3c3c" stroke-width="0.12">1e−04</text>
<line x1="287.05" y1="286" x2="287.05" y2="289" stroke="#1a1a1a" stroke-width="0.9" />
<text transform="translate(289.15,292.2) rotate(-90)" font-size="5.9" text-anchor="end" fill="#3c3c3c" font-weight="normal" font-style="normal" stroke="#3c3c3c" stroke-width="0.12">1e−05</text>
<line x1="294.47" y1="286" x2="294.47" y2="289" stroke="#1a1a1a" stroke-width="0.9" />
<text transform="translate(296.57,292.2) rotate(-90)" font-size="5.9" text-anchor="end" fill="#3c3c3c" font-weight="normal" font-style="normal" stroke="#3c3c3c" stroke-width="0.12">1e−04</text>
<line x1="301.89" y1="286" x2="301.89" y2="289" stroke="#1a1a1a" stroke-width="0.9" />
<text transform="translate(303.99,292.2) rotate(-90)" font-size="5.9" text-anchor="end" fill="#3c3c3c" font-weight="normal" font-style="normal" stroke="#3c3c3c" stroke-width="0.12">0.001</text>
<line x1="309.31" y1="286" x2="309.31" y2="289" stroke="#1a1a1a" stroke-width="0.9" />
<text transform="translate(311.41,292.2) rotate(-90)" font-size="5.9" text-anchor="end" fill="#3c3c3c" font-weight="normal" font-style="normal" stroke="#3c3c3c" stroke-width="0.12">0.01</text>
<line x1="316.73" y1="286" x2="316.73" y2="289" stroke="#1a1a1a" stroke-width="0.9" />
<text transform="translate(318.83,292.2) rotate(-90)" font-size="5.9" text-anchor="end" fill="#3c3c3c" font-weight="normal" font-style="normal" stroke="#3c3c3c" stroke-width="0.12">0.1</text>
<line x1="282.6" y1="350.9" x2="285.8" y2="350.9" stroke="#1a1a1a" stroke-width="0.9" />
<text transform="translate(279.4,353)" font-size="6.0" text-anchor="end" fill="#3c3c3c" font-weight="normal" font-style="normal" stroke="#3c3c3c" stroke-width="0.12">100</text>
<line x1="282.6" y1="370.3" x2="285.8" y2="370.3" stroke="#1a1a1a" stroke-width="0.9" />
<text transform="translate(279.4,372.4)" font-size="6.0" text-anchor="end" fill="#3c3c3c" font-weight="normal" font-style="normal" stroke="#3c3c3c" stroke-width="0.12">10</text>
<line x1="282.6" y1="389.7" x2="285.8" y2="389.7" stroke="#1a1a1a" stroke-width="0.9" />
<text transform="translate(279.4,391.8)" font-size="6.0" text-anchor="end" fill="#3c3c3c" font-weight="normal" font-style="normal" stroke="#3c3c3c" stroke-width="0.12">1</text>
<line x1="282.6" y1="409.1" x2="285.8" y2="409.1" stroke="#1a1a1a" stroke-width="0.9" />
<text transform="translate(279.4,411.2)" font-size="6.0" text-anchor="end" fill="#3c3c3c" font-weight="normal" font-style="normal" stroke="#3c3c3c" stroke-width="0.12">0.1</text>
<line x1="282.6" y1="428.5" x2="285.8" y2="428.5" stroke="#1a1a1a" stroke-width="0.9" />
<text transform="translate(279.4,430.6)" font-size="6.0" text-anchor="end" fill="#3c3c3c" font-weight="normal" font-style="normal" stroke="#3c3c3c" stroke-width="0.12">0.01</text>
<line x1="287.05" y1="432.4" x2="287.05" y2="435.4" stroke="#1a1a1a" stroke-width="0.9" />
<text transform="translate(289.15,438.6) rotate(-90)" font-size="5.9" text-anchor="end" fill="#3c3c3c" font-weight="normal" font-style="normal" stroke="#3c3c3c" stroke-width="0.12">1e−05</text>
<line x1="294.47" y1="432.4" x2="294.47" y2="435.4" stroke="#1a1a1a" stroke-width="0.9" />
<text transform="translate(296.57,438.6) rotate(-90)" font-size="5.9" text-anchor="end" fill="#3c3c3c" font-weight="normal" font-style="normal" stroke="#3c3c3c" stroke-width="0.12">1e−04</text>
<line x1="301.89" y1="432.4" x2="301.89" y2="435.4" stroke="#1a1a1a" stroke-width="0.9" />
<text transform="translate(303.99,438.6) rotate(-90)" font-size="5.9" text-anchor="end" fill="#3c3c3c" font-weight="normal" font-style="normal" stroke="#3c3c3c" stroke-width="0.12">0.001</text>
<line x1="309.31" y1="432.4" x2="309.31" y2="435.4" stroke="#1a1a1a" stroke-width="0.9" />
<text transform="translate(311.41,438.6) rotate(-90)" font-size="5.9" text-anchor="end" fill="#3c3c3c" font-weight="normal" font-style="normal" stroke="#3c3c3c" stroke-width="0.12">0.01</text>
<line x1="316.73" y1="432.4" x2="316.73" y2="435.4" stroke="#1a1a1a" stroke-width="0.9" />
<text transform="translate(318.83,438.6) rotate(-90)" font-size="5.9" text-anchor="end" fill="#3c3c3c" font-weight="normal" font-style="normal" stroke="#3c3c3c" stroke-width="0.12">0.1</text>
<text transform="translate(400.65,196)" font-size="7.8" text-anchor="middle" fill="#262626" font-weight="normal" font-style="italic">unadjusted</text>
<line x1="378.4" y1="204.2" x2="381.6" y2="204.2" stroke="#1a1a1a" stroke-width="0.9" />
<text transform="translate(375.2,206.3)" font-size="6.0" text-anchor="end" fill="#3c3c3c" font-weight="normal" font-style="normal" stroke="#3c3c3c" stroke-width="0.12">1</text>
<line x1="378.4" y1="223.6" x2="381.6" y2="223.6" stroke="#1a1a1a" stroke-width="0.9" />
<text transform="translate(375.2,225.7)" font-size="6.0" text-anchor="end" fill="#3c3c3c" font-weight="normal" font-style="normal" stroke="#3c3c3c" stroke-width="0.12">0.1</text>
<line x1="378.4" y1="243" x2="381.6" y2="243" stroke="#1a1a1a" stroke-width="0.9" />
<text transform="translate(375.2,245.1)" font-size="6.0" text-anchor="end" fill="#3c3c3c" font-weight="normal" font-style="normal" stroke="#3c3c3c" stroke-width="0.12">0.01</text>
<line x1="378.4" y1="262.4" x2="381.6" y2="262.4" stroke="#1a1a1a" stroke-width="0.9" />
<text transform="translate(375.2,264.5)" font-size="6.0" text-anchor="end" fill="#3c3c3c" font-weight="normal" font-style="normal" stroke="#3c3c3c" stroke-width="0.12">0.001</text>
<line x1="378.4" y1="281.8" x2="381.6" y2="281.8" stroke="#1a1a1a" stroke-width="0.9" />
<text transform="translate(375.2,283.9)" font-size="6.0" text-anchor="end" fill="#3c3c3c" font-weight="normal" font-style="normal" stroke="#3c3c3c" stroke-width="0.12">1e−04</text>
<line x1="382.85" y1="286" x2="382.85" y2="289" stroke="#1a1a1a" stroke-width="0.9" />
<text transform="translate(384.95,292.2) rotate(-90)" font-size="5.9" text-anchor="end" fill="#3c3c3c" font-weight="normal" font-style="normal" stroke="#3c3c3c" stroke-width="0.12">1e−05</text>
<line x1="390.27" y1="286" x2="390.27" y2="289" stroke="#1a1a1a" stroke-width="0.9" />
<text transform="translate(392.37,292.2) rotate(-90)" font-size="5.9" text-anchor="end" fill="#3c3c3c" font-weight="normal" font-style="normal" stroke="#3c3c3c" stroke-width="0.12">1e−04</text>
<line x1="397.69" y1="286" x2="397.69" y2="289" stroke="#1a1a1a" stroke-width="0.9" />
<text transform="translate(399.79,292.2) rotate(-90)" font-size="5.9" text-anchor="end" fill="#3c3c3c" font-weight="normal" font-style="normal" stroke="#3c3c3c" stroke-width="0.12">0.001</text>
<line x1="405.11" y1="286" x2="405.11" y2="289" stroke="#1a1a1a" stroke-width="0.9" />
<text transform="translate(407.21,292.2) rotate(-90)" font-size="5.9" text-anchor="end" fill="#3c3c3c" font-weight="normal" font-style="normal" stroke="#3c3c3c" stroke-width="0.12">0.01</text>
<line x1="412.53" y1="286" x2="412.53" y2="289" stroke="#1a1a1a" stroke-width="0.9" />
<text transform="translate(414.63,292.2) rotate(-90)" font-size="5.9" text-anchor="end" fill="#3c3c3c" font-weight="normal" font-style="normal" stroke="#3c3c3c" stroke-width="0.12">0.1</text>
<line x1="378.4" y1="350.9" x2="381.6" y2="350.9" stroke="#1a1a1a" stroke-width="0.9" />
<text transform="translate(375.2,353)" font-size="6.0" text-anchor="end" fill="#3c3c3c" font-weight="normal" font-style="normal" stroke="#3c3c3c" stroke-width="0.12">100</text>
<line x1="378.4" y1="370.3" x2="381.6" y2="370.3" stroke="#1a1a1a" stroke-width="0.9" />
<text transform="translate(375.2,372.4)" font-size="6.0" text-anchor="end" fill="#3c3c3c" font-weight="normal" font-style="normal" stroke="#3c3c3c" stroke-width="0.12">10</text>
<line x1="378.4" y1="389.7" x2="381.6" y2="389.7" stroke="#1a1a1a" stroke-width="0.9" />
<text transform="translate(375.2,391.8)" font-size="6.0" text-anchor="end" fill="#3c3c3c" font-weight="normal" font-style="normal" stroke="#3c3c3c" stroke-width="0.12">1</text>
<line x1="378.4" y1="409.1" x2="381.6" y2="409.1" stroke="#1a1a1a" stroke-width="0.9" />
<text transform="translate(375.2,411.2)" font-size="6.0" text-anchor="end" fill="#3c3c3c" font-weight="normal" font-style="normal" stroke="#3c3c3c" stroke-width="0.12">0.1</text>
<line x1="378.4" y1="428.5" x2="381.6" y2="428.5" stroke="#1a1a1a" stroke-width="0.9" />
<text transform="translate(375.2,430.6)" font-size="6.0" text-anchor="end" fill="#3c3c3c" font-weight="normal" font-style="normal" stroke="#3c3c3c" stroke-width="0.12">0.01</text>
<line x1="382.85" y1="432.4" x2="382.85" y2="435.4" stroke="#1a1a1a" stroke-width="0.9" />
<text transform="translate(384.95,438.6) rotate(-90)" font-size="5.9" text-anchor="end" fill="#3c3c3c" font-weight="normal" font-style="normal" stroke="#3c3c3c" stroke-width="0.12">1e−05</text>
<line x1="390.27" y1="432.4" x2="390.27" y2="435.4" stroke="#1a1a1a" stroke-width="0.9" />
<text transform="translate(392.37,438.6) rotate(-90)" font-size="5.9" text-anchor="end" fill="#3c3c3c" font-weight="normal" font-style="normal" stroke="#3c3c3c" stroke-width="0.12">1e−04</text>
<line x1="397.69" y1="432.4" x2="397.69" y2="435.4" stroke="#1a1a1a" stroke-width="0.9" />
<text transform="translate(399.79,438.6) rotate(-90)" font-size="5.9" text-anchor="end" fill="#3c3c3c" font-weight="normal" font-style="normal" stroke="#3c3c3c" stroke-width="0.12">0.001</text>
<line x1="405.11" y1="432.4" x2="405.11" y2="435.4" stroke="#1a1a1a" stroke-width="0.9" />
<text transform="translate(407.21,438.6) rotate(-90)" font-size="5.9" text-anchor="end" fill="#3c3c3c" font-weight="normal" font-style="normal" stroke="#3c3c3c" stroke-width="0.12">0.01</text>
<line x1="412.53" y1="432.4" x2="412.53" y2="435.4" stroke="#1a1a1a" stroke-width="0.9" />
<text transform="translate(414.63,438.6) rotate(-90)" font-size="5.9" text-anchor="end" fill="#3c3c3c" font-weight="normal" font-style="normal" stroke="#3c3c3c" stroke-width="0.12">0.1</text>
<text transform="translate(474.15,196)" font-size="7.8" text-anchor="middle" fill="#262626" font-weight="normal" font-style="italic">adjusted</text>
<line x1="451.8" y1="204.2" x2="455" y2="204.2" stroke="#1a1a1a" stroke-width="0.9" />
<text transform="translate(448.6,206.3)" font-size="6.0" text-anchor="end" fill="#3c3c3c" font-weight="normal" font-style="normal" stroke="#3c3c3c" stroke-width="0.12">1</text>
<line x1="451.8" y1="223.6" x2="455" y2="223.6" stroke="#1a1a1a" stroke-width="0.9" />
<text transform="translate(448.6,225.7)" font-size="6.0" text-anchor="end" fill="#3c3c3c" font-weight="normal" font-style="normal" stroke="#3c3c3c" stroke-width="0.12">0.1</text>
<line x1="451.8" y1="243" x2="455" y2="243" stroke="#1a1a1a" stroke-width="0.9" />
<text transform="translate(448.6,245.1)" font-size="6.0" text-anchor="end" fill="#3c3c3c" font-weight="normal" font-style="normal" stroke="#3c3c3c" stroke-width="0.12">0.01</text>
<line x1="451.8" y1="262.4" x2="455" y2="262.4" stroke="#1a1a1a" stroke-width="0.9" />
<text transform="translate(448.6,264.5)" font-size="6.0" text-anchor="end" fill="#3c3c3c" font-weight="normal" font-style="normal" stroke="#3c3c3c" stroke-width="0.12">0.001</text>
<line x1="451.8" y1="281.8" x2="455" y2="281.8" stroke="#1a1a1a" stroke-width="0.9" />
<text transform="translate(448.6,283.9)" font-size="6.0" text-anchor="end" fill="#3c3c3c" font-weight="normal" font-style="normal" stroke="#3c3c3c" stroke-width="0.12">1e−04</text>
<line x1="456.25" y1="286" x2="456.25" y2="289" stroke="#1a1a1a" stroke-width="0.9" />
<text transform="translate(458.35,292.2) rotate(-90)" font-size="5.9" text-anchor="end" fill="#3c3c3c" font-weight="normal" font-style="normal" stroke="#3c3c3c" stroke-width="0.12">1e−05</text>
<line x1="463.67" y1="286" x2="463.67" y2="289" stroke="#1a1a1a" stroke-width="0.9" />
<text transform="translate(465.77,292.2) rotate(-90)" font-size="5.9" text-anchor="end" fill="#3c3c3c" font-weight="normal" font-style="normal" stroke="#3c3c3c" stroke-width="0.12">1e−04</text>
<line x1="471.09" y1="286" x2="471.09" y2="289" stroke="#1a1a1a" stroke-width="0.9" />
<text transform="translate(473.19,292.2) rotate(-90)" font-size="5.9" text-anchor="end" fill="#3c3c3c" font-weight="normal" font-style="normal" stroke="#3c3c3c" stroke-width="0.12">0.001</text>
<line x1="478.51" y1="286" x2="478.51" y2="289" stroke="#1a1a1a" stroke-width="0.9" />
<text transform="translate(480.61,292.2) rotate(-90)" font-size="5.9" text-anchor="end" fill="#3c3c3c" font-weight="normal" font-style="normal" stroke="#3c3c3c" stroke-width="0.12">0.01</text>
<line x1="485.93" y1="286" x2="485.93" y2="289" stroke="#1a1a1a" stroke-width="0.9" />
<text transform="translate(488.03,292.2) rotate(-90)" font-size="5.9" text-anchor="end" fill="#3c3c3c" font-weight="normal" font-style="normal" stroke="#3c3c3c" stroke-width="0.12">0.1</text>
<line x1="451.8" y1="350.9" x2="455" y2="350.9" stroke="#1a1a1a" stroke-width="0.9" />
<text transform="translate(448.6,353)" font-size="6.0" text-anchor="end" fill="#3c3c3c" font-weight="normal" font-style="normal" stroke="#3c3c3c" stroke-width="0.12">100</text>
<line x1="451.8" y1="370.3" x2="455" y2="370.3" stroke="#1a1a1a" stroke-width="0.9" />
<text transform="translate(448.6,372.4)" font-size="6.0" text-anchor="end" fill="#3c3c3c" font-weight="normal" font-style="normal" stroke="#3c3c3c" stroke-width="0.12">10</text>
<line x1="451.8" y1="389.7" x2="455" y2="389.7" stroke="#1a1a1a" stroke-width="0.9" />
<text transform="translate(448.6,391.8)" font-size="6.0" text-anchor="end" fill="#3c3c3c" font-weight="normal" font-style="normal" stroke="#3c3c3c" stroke-width="0.12">1</text>
<line x1="451.8" y1="409.1" x2="455" y2="409.1" stroke="#1a1a1a" stroke-width="0.9" />
<text transform="translate(448.6,411.2)" font-size="6.0" text-anchor="end" fill="#3c3c3c" font-weight="normal" font-style="normal" stroke="#3c3c3c" stroke-width="0.12">0.1</text>
<line x1="451.8" y1="428.5" x2="455" y2="428.5" stroke="#1a1a1a" stroke-width="0.9" />
<text transform="translate(448.6,430.6)" font-size="6.0" text-anchor="end" fill="#3c3c3c" font-weight="normal" font-style="normal" stroke="#3c3c3c" stroke-width="0.12">0.01</text>
<line x1="456.25" y1="432.4" x2="456.25" y2="435.4" stroke="#1a1a1a" stroke-width="0.9" />
<text transform="translate(458.35,438.6) rotate(-90)" font-size="5.9" text-anchor="end" fill="#3c3c3c" font-weight="normal" font-style="normal" stroke="#3c3c3c" stroke-width="0.12">1e−05</text>
<line x1="463.67" y1="432.4" x2="463.67" y2="435.4" stroke="#1a1a1a" stroke-width="0.9" />
<text transform="translate(465.77,438.6) rotate(-90)" font-size="5.9" text-anchor="end" fill="#3c3c3c" font-weight="normal" font-style="normal" stroke="#3c3c3c" stroke-width="0.12">1e−04</text>
<line x1="471.09" y1="432.4" x2="471.09" y2="435.4" stroke="#1a1a1a" stroke-width="0.9" />
<text transform="translate(473.19,438.6) rotate(-90)" font-size="5.9" text-anchor="end" fill="#3c3c3c" font-weight="normal" font-style="normal" stroke="#3c3c3c" stroke-width="0.12">0.001</text>
<line x1="478.51" y1="432.4" x2="478.51" y2="435.4" stroke="#1a1a1a" stroke-width="0.9" />
<text transform="translate(480.61,438.6) rotate(-90)" font-size="5.9" text-anchor="end" fill="#3c3c3c" font-weight="normal" font-style="normal" stroke="#3c3c3c" stroke-width="0.12">0.01</text>
<line x1="485.93" y1="432.4" x2="485.93" y2="435.4" stroke="#1a1a1a" stroke-width="0.9" />
<text transform="translate(488.03,438.6) rotate(-90)" font-size="5.9" text-anchor="end" fill="#3c3c3c" font-weight="normal" font-style="normal" stroke="#3c3c3c" stroke-width="0.12">0.1</text>
<text transform="translate(16.6,243) rotate(-90) scale(0.688,1)" font-size="7.8" text-anchor="middle" fill="#141414" stroke="#141414" stroke-width="0.26"><tspan font-style="italic">P</tspan>-values (Cox)</text>
<text transform="translate(23.4,388.9) rotate(-90) scale(0.672,1)" font-size="7.8" text-anchor="middle" fill="#141414" font-weight="normal" font-style="normal" stroke="#141414" stroke-width="0.26">Hazard ratios &amp; 95% CI (Cox)</text>
<text transform="translate(46.2,318.9) scale(0.701,1)" font-size="7.8" text-anchor="start" fill="#141414" font-weight="normal" font-style="normal" stroke="#141414" stroke-width="0.26">Proportion recipient</text>
<line x1="99.6" y1="316.8" x2="114" y2="316.8" stroke="#000" stroke-width="0.8" />
<polygon points="117,316.8 113,315.2 113,318.4" fill="#000" />
<text transform="translate(46.2,465.4) scale(0.701,1)" font-size="7.8" text-anchor="start" fill="#141414" font-weight="normal" font-style="normal" stroke="#141414" stroke-width="0.26">Proportion recipient</text>
<line x1="99.6" y1="463.3" x2="114" y2="463.3" stroke="#000" stroke-width="0.8" />
<polygon points="117,463.3 113,461.7 113,464.9" fill="#000" />
<clipPath id="cb0"><rect x="46.3" y="200.5" width="37.7" height="85.5"/></clipPath>
<g clip-path="url(#cb0)">
<line x1="46.3" y1="229.5" x2="79.3" y2="229.5" stroke="#e8883a" stroke-width="1.0" stroke-dasharray="5.5,3.8" stroke-dashoffset="1.2"/>
<polyline points="52.5,213 56.7,206 60,205 64,207 68,207 71,207 73.7,218 76,228 78,226 80,228 81.5,232" fill="none" stroke="#8fdcf5" stroke-width="3.4" stroke-linejoin="round" stroke-opacity="0.5"/>
<polyline points="52.5,213 56.7,206 60,205 64,207 68,207 71,207 73.7,218 76,228 78,226 80,228 81.5,232" fill="none" stroke="#2a8fc4" stroke-width="1.5" stroke-linejoin="round" />
<polyline points="52.5,214.1 54.2,216.2 56.7,206 58.8,205.6 60.1,204.8 61.4,210.7 62.2,205.2 64.3,209 66,205.6 67.7,208.2 69.4,213.3 70.7,205.6 71.5,209 73.7,220.9 74.9,226.8 75.8,240.4 76.6,220 77.5,224.3 79.2,225.1 81.3,244.2" fill="none" stroke="#0d1720" stroke-width="1.3" stroke-linejoin="round" />
<polyline points="52.5,213 56.7,206 60,205 64,207 68,207 71,207 73.7,218 76,228 78,226 80,228 81.5,232" fill="none" stroke="#2a8fc4" stroke-width="0.9" stroke-linejoin="round" stroke-opacity="0.5"/>
</g>
<clipPath id="cb1"><rect x="118.6" y="200.5" width="38.400000000000006" height="85.5"/></clipPath>
<g clip-path="url(#cb1)">
<line x1="118.6" y1="229.5" x2="151.6" y2="229.5" stroke="#e8883a" stroke-width="1.0" stroke-dasharray="5.5,3.8" stroke-dashoffset="1.2"/>
<polyline points="125.3,212.5 129.6,206 133,205.5 135.5,207 138.5,220 142.3,206 145,211 147.5,226 149.5,228 152,228 154,232" fill="none" stroke="#8fdcf5" stroke-width="3.4" stroke-linejoin="round" stroke-opacity="0.5"/>
<polyline points="125.3,212.5 129.6,206 133,205.5 135.5,207 138.5,220 142.3,206 145,211 147.5,226 149.5,228 152,228 154,232" fill="none" stroke="#2a8fc4" stroke-width="1.5" stroke-linejoin="round" />
<polyline points="125.3,213.3 127,214.1 129.6,205.6 131.3,208.6 133,204.8 134.2,209.9 135.5,206 138.5,222.2 142.3,205.6 144.8,210.7 146.1,215.8 147.4,226 148.2,246.3 149.5,224.3 151.6,226 152.9,230.2 153.7,242.5" fill="none" stroke="#0d1720" stroke-width="1.3" stroke-linejoin="round" />
<polyline points="125.3,212.5 129.6,206 133,205.5 135.5,207 138.5,220 142.3,206 145,211 147.5,226 149.5,228 152,228 154,232" fill="none" stroke="#2a8fc4" stroke-width="0.9" stroke-linejoin="round" stroke-opacity="0.5"/>
</g>
<clipPath id="cb2"><rect x="213.6" y="200.5" width="37.900000000000006" height="85.5"/></clipPath>
<g clip-path="url(#cb2)">
<line x1="213.6" y1="229.5" x2="246.6" y2="229.5" stroke="#e8883a" stroke-width="1.0" stroke-dasharray="5.5,3.8" stroke-dashoffset="1.2"/>
<polyline points="215.5,213 223,212 227,210 231.5,206 235,214 238,228 241,235 244,226 247,238 249,248 251,260" fill="none" stroke="#8fdcf5" stroke-width="3.4" stroke-linejoin="round" stroke-opacity="0.5"/>
<polyline points="215.5,213 223,212 227,210 231.5,206 235,214 238,228 241,235 244,226 247,238 249,248 251,260" fill="none" stroke="#2a8fc4" stroke-width="1.5" stroke-linejoin="round" />
<polyline points="215.5,213.4 223.2,212.3 224.9,216.7 227.6,209 229.3,215.6 231.5,205.2 234.8,214.5 237.6,227.8 239.2,238.8 241.4,239.3 241.4,256.4 241.4,239 243.1,221.2 244.5,221.5 246.4,230 246.9,249.8 248.6,250.9" fill="none" stroke="#0d1720" stroke-width="1.3" stroke-linejoin="round" />
<polyline points="215.5,213 223,212 227,210 231.5,206 235,214 238,228 241,235 244,226 247,238 249,248 251,260" fill="none" stroke="#2a8fc4" stroke-width="0.9" stroke-linejoin="round" stroke-opacity="0.5"/>
</g>
<clipPath id="cb3"><rect x="285.8" y="200.5" width="38.099999999999966" height="85.5"/></clipPath>
<g clip-path="url(#cb3)">
<line x1="285.8" y1="229.5" x2="318.8" y2="229.5" stroke="#e8883a" stroke-width="1.0" stroke-dasharray="5.5,3.8" stroke-dashoffset="1.2"/>
<polyline points="288.2,211 297,210 304.6,206 308,212 310,224 312.5,238 314.7,226 317,219 320,222.5 323,226" fill="none" stroke="#8fdcf5" stroke-width="3.4" stroke-linejoin="round" stroke-opacity="0.5"/>
<polyline points="288.2,211 297,210 304.6,206 308,212 310,224 312.5,238 314.7,226 317,219 320,222.5 323,226" fill="none" stroke="#2a8fc4" stroke-width="1.5" stroke-linejoin="round" />
<polyline points="288.2,211.3 296.2,210.8 297.9,209.9 299.7,208.2 301.5,212.2 304.6,205.1 307.7,211.3 309.4,222.8 312.1,237.8 313.4,243.1 314.7,224.5 316.5,218.4 318.3,219.2 320,223.7 322.3,226.3" fill="none" stroke="#0d1720" stroke-width="1.3" stroke-linejoin="round" />
<polyline points="288.2,211 297,210 304.6,206 308,212 310,224 312.5,238 314.7,226 317,219 320,222.5 323,226" fill="none" stroke="#2a8fc4" stroke-width="0.9" stroke-linejoin="round" stroke-opacity="0.5"/>
</g>
<clipPath id="cb4"><rect x="381.6" y="200.5" width="38.099999999999966" height="85.5"/></clipPath>
<g clip-path="url(#cb4)">
<line x1="381.6" y1="229.5" x2="414.6" y2="229.5" stroke="#e8883a" stroke-width="1.0" stroke-dasharray="5.5,3.8" stroke-dashoffset="1.2"/>
<polyline points="384.2,209.5 392,209.5 397,205.5 402,206.5 406,206 408.5,214 411,227 413.5,224 415.5,212 417,206" fill="none" stroke="#8fdcf5" stroke-width="3.4" stroke-linejoin="round" stroke-opacity="0.5"/>
<polyline points="384.2,209.5 392,209.5 397,205.5 402,206.5 406,206 408.5,214 411,227 413.5,224 415.5,212 417,206" fill="none" stroke="#2a8fc4" stroke-width="1.5" stroke-linejoin="round" />
<polyline points="384.2,209.5 391.3,209.9 393.9,208.6 397,204.6 399.2,209.9 402.8,205.5 405.9,205.1 408.1,213 410.3,224.5 410.7,228.5 411.6,223.7 413,228.5 415.2,213.9 416.9,205.1" fill="none" stroke="#0d1720" stroke-width="1.3" stroke-linejoin="round" />
<polyline points="384.2,209.5 392,209.5 397,205.5 402,206.5 406,206 408.5,214 411,227 413.5,224 415.5,212 417,206" fill="none" stroke="#2a8fc4" stroke-width="0.9" stroke-linejoin="round" stroke-opacity="0.5"/>
</g>
<clipPath id="cb5"><rect x="455.0" y="200.5" width="38.30000000000001" height="85.5"/></clipPath>
<g clip-path="url(#cb5)">
<line x1="455" y1="229.5" x2="488" y2="229.5" stroke="#e8883a" stroke-width="1.0" stroke-dasharray="5.5,3.8" stroke-dashoffset="1.2"/>
<polyline points="457.3,206.4 466,206.4 471,205.5 476,208 479,210 482,220 484,228 486,222 488,209 490.5,206.5" fill="none" stroke="#8fdcf5" stroke-width="3.4" stroke-linejoin="round" stroke-opacity="0.5"/>
<polyline points="457.3,206.4 466,206.4 471,205.5 476,208 479,210 482,220 484,228 486,222 488,209 490.5,206.5" fill="none" stroke="#2a8fc4" stroke-width="1.5" stroke-linejoin="round" />
<polyline points="457.3,206.4 465.3,206.4 470.6,204.6 472.4,209.1 474.1,205.1 475.9,209.1 478.5,209.1 481.2,217.5 482.5,223.7 483.4,233.4 484.7,221 486.1,227.2 487.4,212.2 488.3,206 489.6,207.7 490.5,205.5" fill="none" stroke="#0d1720" stroke-width="1.3" stroke-linejoin="round" />
<polyline points="457.3,206.4 466,206.4 471,205.5 476,208 479,210 482,220 484,228 486,222 488,209 490.5,206.5" fill="none" stroke="#2a8fc4" stroke-width="0.9" stroke-linejoin="round" stroke-opacity="0.5"/>
</g>
<line x1="82.6" y1="208" x2="82.6" y2="245" stroke="#8e8e8e" stroke-width="0.8" />
<line x1="155" y1="208" x2="155" y2="238" stroke="#8e8e8e" stroke-width="0.8" />
<rect x="46.3" y="200.5" width="37.7" height="85.5" fill="none" stroke="#1a1a1a" stroke-width="1.2" />
<rect x="118.6" y="200.5" width="38.4" height="85.5" fill="none" stroke="#1a1a1a" stroke-width="1.2" />
<rect x="213.6" y="200.5" width="37.9" height="85.5" fill="none" stroke="#1a1a1a" stroke-width="1.2" />
<rect x="285.8" y="200.5" width="38.1" height="85.5" fill="none" stroke="#1a1a1a" stroke-width="1.2" />
<rect x="381.6" y="200.5" width="38.1" height="85.5" fill="none" stroke="#1a1a1a" stroke-width="1.2" />
<rect x="455" y="200.5" width="38.3" height="85.5" fill="none" stroke="#1a1a1a" stroke-width="1.2" />
<clipPath id="cc0"><rect x="46.3" y="346.8" width="37.7" height="85.59999999999997"/></clipPath>
<g clip-path="url(#cc0)">
<line x1="46.3" y1="389.7" x2="81" y2="389.7" stroke="#ee9a48" stroke-width="1.0" stroke-opacity="0.55"/>
<polygon points="52.7,346.8 53.2,364.2 55,374.3 57.8,380.8 60.5,384.4 63.3,386.3 66.1,384.4 68.8,382.6 71.6,380.8 74.3,373.4 77.1,371.6 80.8,367 81.7,366.1 82.6,372 82.6,386 81.7,387.2 78.9,389 75.3,390.9 71.6,393.6 67.9,393.6 64.2,395.9 59.6,395.5 56,393.6 53.2,387.2 52.7,432.4" fill="#8a92a8" fill-opacity="0.7"/>
<rect x="48.4" y="346.8" width="4.3" height="85.6" fill="#8e96a6" stroke="none" stroke-width="1" fill-opacity="0.75"/>
<polyline points="52.7,346.8 52.7,378.9 54.6,380.8 56,385.4 56.9,388.1 58.7,389 61,390 62.4,391.3 65.1,390.4 67.9,389.5 70.7,388.6 72.5,386.3 75.3,380.8 77.1,381.7 78.9,378.9 81.2,376.2 82.1,382.6" fill="none" stroke="#7fd6cf" stroke-width="3.0" stroke-linejoin="round" stroke-opacity="0.45"/>
<polyline points="52.7,346.8 52.7,378.9 54.6,380.8 56,385.4 56.9,388.1 58.7,389 61,390 62.4,391.3 65.1,390.4 67.9,389.5 70.7,388.6 72.5,386.3 75.3,380.8 77.1,381.7 78.9,378.9 81.2,376.2 82.1,382.6" fill="none" stroke="#1d5e46" stroke-width="1.2" stroke-linejoin="round" />
</g>
<clipPath id="cc1"><rect x="118.6" y="346.8" width="38.400000000000006" height="85.59999999999997"/></clipPath>
<g clip-path="url(#cc1)">
<line x1="118.6" y1="389.7" x2="154" y2="389.7" stroke="#ee9a48" stroke-width="1.0" stroke-opacity="0.55"/>
<polygon points="125.7,346.8 127,363.8 128.9,378.9 130.7,382.6 134.4,384.4 139,387.2 142.7,383.5 145.4,379.8 148.2,368.8 151.8,370.7 153.7,366.1 155.2,372 155.2,388 153.7,389 150,390.9 146.3,393.6 142.7,397.3 138,399.1 134.4,397.3 130.7,395.5 127,390 125.7,432.4" fill="#8a92a8" fill-opacity="0.7"/>
<rect x="121" y="346.8" width="4.7" height="85.6" fill="#8e96a6" stroke="none" stroke-width="1" fill-opacity="0.75"/>
<polyline points="125.5,346.8 125.5,380.8 127,381.7 129.8,388.1 131.2,390.9 133,389 135.3,391.8 138.5,394.5 140.8,391.8 143.1,390.4 145.4,384.9 147.7,378.9 150,380.8 152.3,378.9 153.7,376.2 155,383.5" fill="none" stroke="#7fd6cf" stroke-width="3.0" stroke-linejoin="round" stroke-opacity="0.45"/>
<polyline points="125.5,346.8 125.5,380.8 127,381.7 129.8,388.1 131.2,390.9 133,389 135.3,391.8 138.5,394.5 140.8,391.8 143.1,390.4 145.4,384.9 147.7,378.9 150,380.8 152.3,378.9 153.7,376.2 155,383.5" fill="none" stroke="#1d5e46" stroke-width="1.2" stroke-linejoin="round" />
</g>
<clipPath id="cc2"><rect x="213.6" y="346.8" width="37.900000000000006" height="85.59999999999997"/></clipPath>
<g clip-path="url(#cc2)">
<line x1="213.6" y1="389.7" x2="248.5" y2="389.7" stroke="#ee9a48" stroke-width="1.0" stroke-opacity="0.55"/>
<polygon points="215.4,387.4 223.9,387.4 226.1,386.3 228.2,386.9 231.4,383.7 236.8,375.1 241.1,368.7 245.4,366.5 247,360.1 249.7,359 249.7,382.6 247.5,383.7 245.4,392.2 243.2,391.2 241.1,386.9 236.8,391.2 231.4,394.4 228.2,397.6 225,398.7 215.4,398.7" fill="#8a92a8" fill-opacity="0.7"/>
<polyline points="215.4,392.2 223.9,392.2 226.1,393.8 227.7,392.2 229.3,393.3 231.4,389 234.7,385.8 237.9,382.6 241.1,377.2 244.3,379.9 246.4,376.2 247.5,371.9 249.1,371.3" fill="none" stroke="#7fd6cf" stroke-width="3.0" stroke-linejoin="round" stroke-opacity="0.45"/>
<polyline points="215.4,392.2 223.9,392.2 226.1,393.8 227.7,392.2 229.3,393.3 231.4,389 234.7,385.8 237.9,382.6 241.1,377.2 244.3,379.9 246.4,376.2 247.5,371.9 249.1,371.3" fill="none" stroke="#1d5e46" stroke-width="1.2" stroke-linejoin="round" />
</g>
<clipPath id="cc3"><rect x="285.8" y="346.8" width="38.099999999999966" height="85.59999999999997"/></clipPath>
<g clip-path="url(#cc3)">
<line x1="285.8" y1="389.7" x2="320.9" y2="389.7" stroke="#ee9a48" stroke-width="1.0" stroke-opacity="0.55"/>
<polygon points="288.4,386.3 301.3,386.3 304.5,380.4 307.7,375.1 310.9,368.1 316.3,368.1 319,363.8 321.7,363.8 321.7,391.2 318.4,392.8 315.2,393.3 313.1,389 309.9,390.1 305.6,394.4 302.4,399.2 288.4,398.7" fill="#8a92a8" fill-opacity="0.7"/>
<polyline points="288.4,392.2 297,392.2 299.1,391.2 302.4,392.2 304.5,388 307.2,386.3 309.9,380.4 312.5,376.7 314.2,377.8 316.3,381 318.4,379.4 321.7,377.2" fill="none" stroke="#7fd6cf" stroke-width="3.0" stroke-linejoin="round" stroke-opacity="0.45"/>
<polyline points="288.4,392.2 297,392.2 299.1,391.2 302.4,392.2 304.5,388 307.2,386.3 309.9,380.4 312.5,376.7 314.2,377.8 316.3,381 318.4,379.4 321.7,377.2" fill="none" stroke="#1d5e46" stroke-width="1.2" stroke-linejoin="round" />
</g>
<clipPath id="cc4"><rect x="381.6" y="346.8" width="38.099999999999966" height="85.59999999999997"/></clipPath>
<g clip-path="url(#cc4)">
<line x1="381.6" y1="389.7" x2="416.7" y2="389.7" stroke="#ee9a48" stroke-width="1.0" stroke-opacity="0.55"/>
<polygon points="383.5,385.3 392.7,385.3 396.4,384.4 399.6,381.6 401.9,383.9 405.6,384.8 409.3,387.6 412,390.3 414.8,383 416.6,376.5 417.5,375.6 417.5,398.6 416.6,401.4 414.8,407.8 412.5,413.3 410.2,403.2 407.4,398.6 403.7,394 400.1,393.1 396.4,396.8 392.7,398.1 383.5,398.1" fill="#8a92a8" fill-opacity="0.7"/>
<polyline points="383.5,391.7 392.7,391.7 396.4,389.4 399.1,387.6 401.9,388.5 405.6,389.4 409.3,394.9 412.5,400.4 414.8,393.1 417.1,389.4 417.8,390.5" fill="none" stroke="#7fd6cf" stroke-width="3.0" stroke-linejoin="round" stroke-opacity="0.45"/>
<polyline points="383.5,391.7 392.7,391.7 396.4,389.4 399.1,387.6 401.9,388.5 405.6,389.4 409.3,394.9 412.5,400.4 414.8,393.1 417.1,389.4 417.8,390.5" fill="none" stroke="#1d5e46" stroke-width="1.2" stroke-linejoin="round" />
</g>
<clipPath id="cc5"><rect x="455.0" y="346.8" width="38.30000000000001" height="85.59999999999997"/></clipPath>
<g clip-path="url(#cc5)">
<line x1="455" y1="389.7" x2="490.3" y2="389.7" stroke="#ee9a48" stroke-width="1.0" stroke-opacity="0.55"/>
<polygon points="457.5,383 470.4,382.1 472.7,380.7 475.9,384.8 479.6,386.7 483.2,390.3 486,392.2 487.8,381.1 489.7,370.1 490.6,369.2 490.6,404.1 489.7,398.6 487.8,404.1 486,415.1 484.2,408.7 481.4,402.3 478.7,396.8 474.1,396.3 471.3,397.7 457.5,398.6" fill="#8a92a8" fill-opacity="0.7"/>
<polyline points="457.5,390.3 468.5,389.9 472.7,388 475,390.8 478.7,391.7 481.4,395.8 483.7,398.6 486,400.4 488.3,386.7 489.7,384.8 491.1,386.7" fill="none" stroke="#7fd6cf" stroke-width="3.0" stroke-linejoin="round" stroke-opacity="0.45"/>
<polyline points="457.5,390.3 468.5,389.9 472.7,388 475,390.8 478.7,391.7 481.4,395.8 483.7,398.6 486,400.4 488.3,386.7 489.7,384.8 491.1,386.7" fill="none" stroke="#1d5e46" stroke-width="1.2" stroke-linejoin="round" />
</g>
<rect x="46.3" y="346.8" width="37.7" height="85.6" fill="none" stroke="#1a1a1a" stroke-width="1.2" />
<rect x="118.6" y="346.8" width="38.4" height="85.6" fill="none" stroke="#1a1a1a" stroke-width="1.2" />
<rect x="213.6" y="346.8" width="37.9" height="85.6" fill="none" stroke="#1a1a1a" stroke-width="1.2" />
<rect x="285.8" y="346.8" width="38.1" height="85.6" fill="none" stroke="#1a1a1a" stroke-width="1.2" />
<rect x="381.6" y="346.8" width="38.1" height="85.6" fill="none" stroke="#1a1a1a" stroke-width="1.2" />
<rect x="455" y="346.8" width="38.3" height="85.6" fill="none" stroke="#1a1a1a" stroke-width="1.2" />
<path d="M74.5,433.5 L74.5,473.3 M45.8,493.5 L45.8,482.4 L74.5,473.3 L159.2,482.8 L159.2,493.5" fill="none" stroke="#d9436b" stroke-width="1" stroke-dasharray="1.3,2.2"/>
<path d="M238.5,433.5 L238.5,473.3 M213.5,493.5 L213.5,482.4 L238.5,473.3 L326.7,482.8 L326.7,493.5" fill="none" stroke="#d9436b" stroke-width="1" stroke-dasharray="1.3,2.2"/>
<path d="M409.9,433.5 L409.9,473.3 M381.6,493.5 L381.6,482.4 L409.9,473.3 L495.4,482.8 L495.4,493.5" fill="none" stroke="#d9436b" stroke-width="1" stroke-dasharray="1.3,2.2"/>
<line x1="56.4" y1="500.8" x2="64.4" y2="500.8" stroke="#42a64c" stroke-width="0.9" />
<line x1="60.4" y1="498.8" x2="60.4" y2="502.8" stroke="#42a64c" stroke-width="0.7" />
<text transform="translate(67,502.8)" font-size="5.55" text-anchor="start" fill="#262626" font-weight="normal" font-style="normal">Chim ≤ 0.06</text>
<line x1="108.1" y1="500.8" x2="115.6" y2="500.8" stroke="#a61a45" stroke-width="0.9" />
<line x1="111.85" y1="498.8" x2="111.85" y2="502.8" stroke="#a61a45" stroke-width="0.7" />
<text transform="translate(118.7,502.8)" font-size="5.55" text-anchor="start" fill="#262626" font-weight="normal" font-style="normal">Chim &gt; 0.06</text>
<line x1="43.2" y1="514.6" x2="46.4" y2="514.6" stroke="#1a1a1a" stroke-width="0.9" />
<text transform="translate(40.2,516.7)" font-size="6.0" text-anchor="end" fill="#3c3c3c" font-weight="normal" font-style="normal" stroke="#3c3c3c" stroke-width="0.12">1.00</text>
<line x1="43.2" y1="540.25" x2="46.4" y2="540.25" stroke="#1a1a1a" stroke-width="0.9" />
<text transform="translate(40.2,542.35)" font-size="6.0" text-anchor="end" fill="#3c3c3c" font-weight="normal" font-style="normal" stroke="#3c3c3c" stroke-width="0.12">0.75</text>
<line x1="43.2" y1="565.9" x2="46.4" y2="565.9" stroke="#1a1a1a" stroke-width="0.9" />
<text transform="translate(40.2,568)" font-size="6.0" text-anchor="end" fill="#3c3c3c" font-weight="normal" font-style="normal" stroke="#3c3c3c" stroke-width="0.12">0.50</text>
<line x1="43.2" y1="591.55" x2="46.4" y2="591.55" stroke="#1a1a1a" stroke-width="0.9" />
<text transform="translate(40.2,593.65)" font-size="6.0" text-anchor="end" fill="#3c3c3c" font-weight="normal" font-style="normal" stroke="#3c3c3c" stroke-width="0.12">0.25</text>
<line x1="43.2" y1="617.2" x2="46.4" y2="617.2" stroke="#1a1a1a" stroke-width="0.9" />
<text transform="translate(40.2,619.3)" font-size="6.0" text-anchor="end" fill="#3c3c3c" font-weight="normal" font-style="normal" stroke="#3c3c3c" stroke-width="0.12">0.00</text>
<line x1="51.3" y1="622.3" x2="51.3" y2="625.3" stroke="#1a1a1a" stroke-width="0.9" />
<text transform="translate(51.3,633.5)" font-size="6.1" text-anchor="middle" fill="#3c3c3c" font-weight="normal" font-style="normal" stroke="#3c3c3c" stroke-width="0.12">0</text>
<line x1="71.8" y1="622.3" x2="71.8" y2="625.3" stroke="#1a1a1a" stroke-width="0.9" />
<text transform="translate(71.8,633.5)" font-size="6.1" text-anchor="middle" fill="#3c3c3c" font-weight="normal" font-style="normal" stroke="#3c3c3c" stroke-width="0.12">365</text>
<line x1="92.3" y1="622.3" x2="92.3" y2="625.3" stroke="#1a1a1a" stroke-width="0.9" />
<text transform="translate(92.3,633.5)" font-size="6.1" text-anchor="middle" fill="#3c3c3c" font-weight="normal" font-style="normal" stroke="#3c3c3c" stroke-width="0.12">730</text>
<line x1="112.8" y1="622.3" x2="112.8" y2="625.3" stroke="#1a1a1a" stroke-width="0.9" />
<text transform="translate(112.8,633.5)" font-size="6.1" text-anchor="middle" fill="#3c3c3c" font-weight="normal" font-style="normal" stroke="#3c3c3c" stroke-width="0.12">1095</text>
<line x1="133.3" y1="622.3" x2="133.3" y2="625.3" stroke="#1a1a1a" stroke-width="0.9" />
<text transform="translate(133.3,633.5)" font-size="6.1" text-anchor="middle" fill="#3c3c3c" font-weight="normal" font-style="normal" stroke="#3c3c3c" stroke-width="0.12">1460</text>
<line x1="153.8" y1="622.3" x2="153.8" y2="625.3" stroke="#1a1a1a" stroke-width="0.9" />
<text transform="translate(153.8,633.5)" font-size="6.1" text-anchor="middle" fill="#3c3c3c" font-weight="normal" font-style="normal" stroke="#3c3c3c" stroke-width="0.12">1825</text>
<line x1="223.4" y1="500.8" x2="231.4" y2="500.8" stroke="#42a64c" stroke-width="0.9" />
<line x1="227.4" y1="498.8" x2="227.4" y2="502.8" stroke="#42a64c" stroke-width="0.7" />
<text transform="translate(234,502.8)" font-size="5.55" text-anchor="start" fill="#262626" font-weight="normal" font-style="normal">Chim ≤ 0.018</text>
<line x1="275.3" y1="500.8" x2="282.8" y2="500.8" stroke="#a61a45" stroke-width="0.9" />
<line x1="279.05" y1="498.8" x2="279.05" y2="502.8" stroke="#a61a45" stroke-width="0.7" />
<text transform="translate(285.9,502.8)" font-size="5.55" text-anchor="start" fill="#262626" font-weight="normal" font-style="normal">Chim &gt; 0.018</text>
<line x1="210" y1="514.6" x2="213.2" y2="514.6" stroke="#1a1a1a" stroke-width="0.9" />
<text transform="translate(207,516.7)" font-size="6.0" text-anchor="end" fill="#3c3c3c" font-weight="normal" font-style="normal" stroke="#3c3c3c" stroke-width="0.12">1.00</text>
<line x1="210" y1="540.25" x2="213.2" y2="540.25" stroke="#1a1a1a" stroke-width="0.9" />
<text transform="translate(207,542.35)" font-size="6.0" text-anchor="end" fill="#3c3c3c" font-weight="normal" font-style="normal" stroke="#3c3c3c" stroke-width="0.12">0.75</text>
<line x1="210" y1="565.9" x2="213.2" y2="565.9" stroke="#1a1a1a" stroke-width="0.9" />
<text transform="translate(207,568)" font-size="6.0" text-anchor="end" fill="#3c3c3c" font-weight="normal" font-style="normal" stroke="#3c3c3c" stroke-width="0.12">0.50</text>
<line x1="210" y1="591.55" x2="213.2" y2="591.55" stroke="#1a1a1a" stroke-width="0.9" />
<text transform="translate(207,593.65)" font-size="6.0" text-anchor="end" fill="#3c3c3c" font-weight="normal" font-style="normal" stroke="#3c3c3c" stroke-width="0.12">0.25</text>
<line x1="210" y1="617.2" x2="213.2" y2="617.2" stroke="#1a1a1a" stroke-width="0.9" />
<text transform="translate(207,619.3)" font-size="6.0" text-anchor="end" fill="#3c3c3c" font-weight="normal" font-style="normal" stroke="#3c3c3c" stroke-width="0.12">0.00</text>
<line x1="218.4" y1="622.3" x2="218.4" y2="625.3" stroke="#1a1a1a" stroke-width="0.9" />
<text transform="translate(218.4,633.5)" font-size="6.1" text-anchor="middle" fill="#3c3c3c" font-weight="normal" font-style="normal" stroke="#3c3c3c" stroke-width="0.12">0</text>
<line x1="238.9" y1="622.3" x2="238.9" y2="625.3" stroke="#1a1a1a" stroke-width="0.9" />
<text transform="translate(238.9,633.5)" font-size="6.1" text-anchor="middle" fill="#3c3c3c" font-weight="normal" font-style="normal" stroke="#3c3c3c" stroke-width="0.12">365</text>
<line x1="259.4" y1="622.3" x2="259.4" y2="625.3" stroke="#1a1a1a" stroke-width="0.9" />
<text transform="translate(259.4,633.5)" font-size="6.1" text-anchor="middle" fill="#3c3c3c" font-weight="normal" font-style="normal" stroke="#3c3c3c" stroke-width="0.12">730</text>
<line x1="279.9" y1="622.3" x2="279.9" y2="625.3" stroke="#1a1a1a" stroke-width="0.9" />
<text transform="translate(279.9,633.5)" font-size="6.1" text-anchor="middle" fill="#3c3c3c" font-weight="normal" font-style="normal" stroke="#3c3c3c" stroke-width="0.12">1095</text>
<line x1="300.4" y1="622.3" x2="300.4" y2="625.3" stroke="#1a1a1a" stroke-width="0.9" />
<text transform="translate(300.4,633.5)" font-size="6.1" text-anchor="middle" fill="#3c3c3c" font-weight="normal" font-style="normal" stroke="#3c3c3c" stroke-width="0.12">1460</text>
<line x1="320.9" y1="622.3" x2="320.9" y2="625.3" stroke="#1a1a1a" stroke-width="0.9" />
<text transform="translate(320.9,633.5)" font-size="6.1" text-anchor="middle" fill="#3c3c3c" font-weight="normal" font-style="normal" stroke="#3c3c3c" stroke-width="0.12">1825</text>
<line x1="390.8" y1="500.8" x2="398.8" y2="500.8" stroke="#42a64c" stroke-width="0.9" />
<line x1="394.8" y1="498.8" x2="394.8" y2="502.8" stroke="#42a64c" stroke-width="0.7" />
<text transform="translate(401.4,502.8)" font-size="5.55" text-anchor="start" fill="#262626" font-weight="normal" font-style="normal">Chim ≤ 0.046</text>
<line x1="442.2" y1="500.8" x2="449.7" y2="500.8" stroke="#a61a45" stroke-width="0.9" />
<line x1="445.95" y1="498.8" x2="445.95" y2="502.8" stroke="#a61a45" stroke-width="0.7" />
<text transform="translate(452.8,502.8)" font-size="5.55" text-anchor="start" fill="#262626" font-weight="normal" font-style="normal">Chim &gt; 0.046</text>
<line x1="378.4" y1="514.6" x2="381.6" y2="514.6" stroke="#1a1a1a" stroke-width="0.9" />
<text transform="translate(375.4,516.7)" font-size="6.0" text-anchor="end" fill="#3c3c3c" font-weight="normal" font-style="normal" stroke="#3c3c3c" stroke-width="0.12">1.00</text>
<line x1="378.4" y1="540.25" x2="381.6" y2="540.25" stroke="#1a1a1a" stroke-width="0.9" />
<text transform="translate(375.4,542.35)" font-size="6.0" text-anchor="end" fill="#3c3c3c" font-weight="normal" font-style="normal" stroke="#3c3c3c" stroke-width="0.12">0.75</text>
<line x1="378.4" y1="565.9" x2="381.6" y2="565.9" stroke="#1a1a1a" stroke-width="0.9" />
<text transform="translate(375.4,568)" font-size="6.0" text-anchor="end" fill="#3c3c3c" font-weight="normal" font-style="normal" stroke="#3c3c3c" stroke-width="0.12">0.50</text>
<line x1="378.4" y1="591.55" x2="381.6" y2="591.55" stroke="#1a1a1a" stroke-width="0.9" />
<text transform="translate(375.4,593.65)" font-size="6.0" text-anchor="end" fill="#3c3c3c" font-weight="normal" font-style="normal" stroke="#3c3c3c" stroke-width="0.12">0.25</text>
<line x1="378.4" y1="617.2" x2="381.6" y2="617.2" stroke="#1a1a1a" stroke-width="0.9" />
<text transform="translate(375.4,619.3)" font-size="6.0" text-anchor="end" fill="#3c3c3c" font-weight="normal" font-style="normal" stroke="#3c3c3c" stroke-width="0.12">0.00</text>
<line x1="386.5" y1="622.3" x2="386.5" y2="625.3" stroke="#1a1a1a" stroke-width="0.9" />
<text transform="translate(386.5,633.5)" font-size="6.1" text-anchor="middle" fill="#3c3c3c" font-weight="normal" font-style="normal" stroke="#3c3c3c" stroke-width="0.12">0</text>
<line x1="407" y1="622.3" x2="407" y2="625.3" stroke="#1a1a1a" stroke-width="0.9" />
<text transform="translate(407,633.5)" font-size="6.1" text-anchor="middle" fill="#3c3c3c" font-weight="normal" font-style="normal" stroke="#3c3c3c" stroke-width="0.12">365</text>
<line x1="427.5" y1="622.3" x2="427.5" y2="625.3" stroke="#1a1a1a" stroke-width="0.9" />
<text transform="translate(427.5,633.5)" font-size="6.1" text-anchor="middle" fill="#3c3c3c" font-weight="normal" font-style="normal" stroke="#3c3c3c" stroke-width="0.12">730</text>
<line x1="448" y1="622.3" x2="448" y2="625.3" stroke="#1a1a1a" stroke-width="0.9" />
<text transform="translate(448,633.5)" font-size="6.1" text-anchor="middle" fill="#3c3c3c" font-weight="normal" font-style="normal" stroke="#3c3c3c" stroke-width="0.12">1095</text>
<line x1="468.5" y1="622.3" x2="468.5" y2="625.3" stroke="#1a1a1a" stroke-width="0.9" />
<text transform="translate(468.5,633.5)" font-size="6.1" text-anchor="middle" fill="#3c3c3c" font-weight="normal" font-style="normal" stroke="#3c3c3c" stroke-width="0.12">1460</text>
<line x1="489" y1="622.3" x2="489" y2="625.3" stroke="#1a1a1a" stroke-width="0.9" />
<text transform="translate(489,633.5)" font-size="6.1" text-anchor="middle" fill="#3c3c3c" font-weight="normal" font-style="normal" stroke="#3c3c3c" stroke-width="0.12">1825</text>
<text transform="translate(23.4,566) rotate(-90) scale(0.716,1)" font-size="7.8" text-anchor="middle" fill="#141414" font-weight="normal" font-style="normal" stroke="#141414" stroke-width="0.26">Fraction relapse (cumulative)</text>
<text transform="translate(46.2,644.1) scale(0.673,1)" font-size="7.8" text-anchor="start" fill="#141414" font-weight="normal" font-style="normal" stroke="#141414" stroke-width="0.26">Days post-allo-HCT</text>
<line x1="98" y1="641.8" x2="112.5" y2="641.8" stroke="#000" stroke-width="0.8" />
<polygon points="115.5,641.8 111.5,640.2 111.5,643.4" fill="#000" />
<clipPath id="cd0"><rect x="46.4" y="509.5" width="112.4" height="112.79999999999995"/></clipPath>
<g clip-path="url(#cd0)">
<line x1="51.2" y1="565.9" x2="62.6" y2="565.9" stroke="#222" stroke-width="0.9" stroke-dasharray="2,2"/>
<line x1="62.6" y1="565.9" x2="62.6" y2="617.7" stroke="#222" stroke-width="0.9" stroke-dasharray="2,2"/>
<polyline points="53.4,618.2 55.6,618.2 55.6,608.5 57.9,608.5 57.9,605 59.35,605 59.35,603.5 60.8,603.5 60.8,602 62.3,602 62.3,600.07 63.8,600.07 63.8,598.13 65.3,598.13 65.3,596.2 66.77,596.2 66.77,594.73 68.23,594.73 68.23,593.27 69.7,593.27 69.7,591.8 70.93,591.8 70.93,590.8 72.17,590.8 72.17,589.8 73.4,589.8 73.4,588.8 78.6,588.5 90.5,588 110,587.5 158.8,587.5" fill="none" stroke="#8fdc9c" stroke-width="3.0" stroke-linejoin="round" stroke-opacity="0.55"/>
<polyline points="53.4,618.2 55.6,618.2 55.6,608.5 57.9,608.5 57.9,605 59.35,605 59.35,603.5 60.8,603.5 60.8,602 62.3,602 62.3,600.07 63.8,600.07 63.8,598.13 65.3,598.13 65.3,596.2 66.77,596.2 66.77,594.73 68.23,594.73 68.23,593.27 69.7,593.27 69.7,591.8 70.93,591.8 70.93,590.8 72.17,590.8 72.17,589.8 73.4,589.8 73.4,588.8 78.6,588.5 90.5,588 110,587.5 158.8,587.5" fill="none" stroke="#42a64c" stroke-width="1.15" stroke-linejoin="round" />
<line x1="72" y1="588.14" x2="72" y2="591.74" stroke="#42a64c" stroke-width="0.7" />
<line x1="74.2" y1="586.95" x2="74.2" y2="590.55" stroke="#42a64c" stroke-width="0.7" />
<line x1="77" y1="586.79" x2="77" y2="590.39" stroke="#42a64c" stroke-width="0.7" />
<line x1="80" y1="586.64" x2="80" y2="590.24" stroke="#42a64c" stroke-width="0.7" />
<line x1="84.6" y1="586.45" x2="84.6" y2="590.05" stroke="#42a64c" stroke-width="0.7" />
<line x1="88" y1="586.31" x2="88" y2="589.91" stroke="#42a64c" stroke-width="0.7" />
<line x1="92" y1="586.16" x2="92" y2="589.76" stroke="#42a64c" stroke-width="0.7" />
<line x1="98.1" y1="586.01" x2="98.1" y2="589.61" stroke="#42a64c" stroke-width="0.7" />
<line x1="103.5" y1="585.87" x2="103.5" y2="589.47" stroke="#42a64c" stroke-width="0.7" />
<line x1="114.2" y1="585.7" x2="114.2" y2="589.3" stroke="#42a64c" stroke-width="0.7" />
<line x1="125.7" y1="585.7" x2="125.7" y2="589.3" stroke="#42a64c" stroke-width="0.7" />
<line x1="135.1" y1="585.7" x2="135.1" y2="589.3" stroke="#42a64c" stroke-width="0.7" />
<line x1="143.2" y1="585.7" x2="143.2" y2="589.3" stroke="#42a64c" stroke-width="0.7" />
<line x1="147.9" y1="585.7" x2="147.9" y2="589.3" stroke="#42a64c" stroke-width="0.7" />
<line x1="151.9" y1="585.7" x2="151.9" y2="589.3" stroke="#42a64c" stroke-width="0.7" />
<line x1="154.6" y1="585.7" x2="154.6" y2="589.3" stroke="#42a64c" stroke-width="0.7" />
<polyline points="51.3,617.3 54.2,617.3 54.2,608.8 56.1,608.8 56.1,597.7 60.1,597.7 60.1,570.3 62.3,570.3 62.3,542.5 86.8,542.5 86.8,533.2 158.8,533.2" fill="none" stroke="#f59ab8" stroke-width="2.8" stroke-linejoin="round" stroke-opacity="0.45"/>
<polyline points="51.3,617.3 54.2,617.3 54.2,608.8 56.1,608.8 56.1,597.7 60.1,597.7 60.1,570.3 62.3,570.3 62.3,542.5 86.8,542.5 86.8,533.2 158.8,533.2" fill="none" stroke="#a61a45" stroke-width="1.15" stroke-linejoin="round" />
<line x1="150" y1="531.4" x2="150" y2="535" stroke="#a61a45" stroke-width="0.7" />
</g>
<rect x="46.4" y="509.5" width="112.4" height="112.8" fill="none" stroke="#1a1a1a" stroke-width="1.2" />
<text transform="translate(156.2,517.9)" font-size="6.15" text-anchor="end" fill="#1a1a1a" font-weight="normal" font-style="normal">HR = 3.4 [1.3 to 8.9]</text>
<text transform="translate(156.2,527.1)" font-size="6.15" text-anchor="end" fill="#1a1a1a" font-weight="normal" font-style="normal">adj.HR = 4.1 [1.5 to 11.4]</text>
<text transform="translate(152.7,543.1)" font-size="5.8" text-anchor="end" fill="#1a1a1a" font-weight="normal" font-style="normal">n.max = 13</text>
<text transform="translate(156.1,583.2)" font-size="5.8" text-anchor="end" fill="#1a1a1a" font-weight="normal" font-style="normal">n.max = 132</text>
<clipPath id="cd1"><rect x="213.2" y="509.5" width="113.10000000000002" height="112.79999999999995"/></clipPath>
<g clip-path="url(#cd1)">
<line x1="220.7" y1="565.9" x2="232.3" y2="565.9" stroke="#222" stroke-width="0.9" stroke-dasharray="2,2"/>
<line x1="232.3" y1="565.9" x2="232.3" y2="617.7" stroke="#222" stroke-width="0.9" stroke-dasharray="2,2"/>
<polyline points="222.7,617.7 224,617.7 224,616.35 225.3,616.35 225.3,615 226.65,615 226.65,612.65 228,612.65 228,610.3 229.35,610.3 229.35,608.65 230.7,608.65 230.7,607 232,607 232,604 233.3,604 233.3,601 234.63,601 234.63,600.33 235.97,600.33 235.97,599.67 237.3,599.67 237.3,599 238.65,599 238.65,598.35 240,598.35 240,597.7 241.32,597.7 241.32,597.53 242.65,597.53 242.65,597.35 243.98,597.35 243.98,597.17 245.3,597.17 245.3,597 252,596.8 271,596.8 271,595.3 326.3,595.3" fill="none" stroke="#8fdc9c" stroke-width="3.0" stroke-linejoin="round" stroke-opacity="0.55"/>
<polyline points="222.7,617.7 224,617.7 224,616.35 225.3,616.35 225.3,615 226.65,615 226.65,612.65 228,612.65 228,610.3 229.35,610.3 229.35,608.65 230.7,608.65 230.7,607 232,607 232,604 233.3,604 233.3,601 234.63,601 234.63,600.33 235.97,600.33 235.97,599.67 237.3,599.67 237.3,599 238.65,599 238.65,598.35 240,598.35 240,597.7 241.32,597.7 241.32,597.53 242.65,597.53 242.65,597.35 243.98,597.35 243.98,597.17 245.3,597.17 245.3,597 252,596.8 271,596.8 271,595.3 326.3,595.3" fill="none" stroke="#42a64c" stroke-width="1.15" stroke-linejoin="round" />
<line x1="227" y1="610.24" x2="227" y2="613.84" stroke="#42a64c" stroke-width="0.7" />
<line x1="238.7" y1="596.53" x2="238.7" y2="600.13" stroke="#42a64c" stroke-width="0.7" />
<line x1="240.7" y1="595.81" x2="240.7" y2="599.41" stroke="#42a64c" stroke-width="0.7" />
<line x1="244" y1="595.37" x2="244" y2="598.97" stroke="#42a64c" stroke-width="0.7" />
<line x1="248" y1="595.12" x2="248" y2="598.72" stroke="#42a64c" stroke-width="0.7" />
<line x1="251.3" y1="595.02" x2="251.3" y2="598.62" stroke="#42a64c" stroke-width="0.7" />
<line x1="255.3" y1="595" x2="255.3" y2="598.6" stroke="#42a64c" stroke-width="0.7" />
<line x1="259.3" y1="595" x2="259.3" y2="598.6" stroke="#42a64c" stroke-width="0.7" />
<line x1="270.3" y1="595" x2="270.3" y2="598.6" stroke="#42a64c" stroke-width="0.7" />
<line x1="280.7" y1="593.5" x2="280.7" y2="597.1" stroke="#42a64c" stroke-width="0.7" />
<line x1="291.1" y1="593.5" x2="291.1" y2="597.1" stroke="#42a64c" stroke-width="0.7" />
<line x1="301.5" y1="593.5" x2="301.5" y2="597.1" stroke="#42a64c" stroke-width="0.7" />
<line x1="311.9" y1="593.5" x2="311.9" y2="597.1" stroke="#42a64c" stroke-width="0.7" />
<line x1="322.2" y1="593.5" x2="322.2" y2="597.1" stroke="#42a64c" stroke-width="0.7" />
<polyline points="218.4,617.3 222.4,617.3 222.4,583 229.3,583 229.3,571.3 232,571.3 232,563 233.3,563 233.3,555.7 235.7,555.7 235.7,548.3 326.3,548.3" fill="none" stroke="#f59ab8" stroke-width="2.8" stroke-linejoin="round" stroke-opacity="0.45"/>
<polyline points="218.4,617.3 222.4,617.3 222.4,583 229.3,583 229.3,571.3 232,571.3 232,563 233.3,563 233.3,555.7 235.7,555.7 235.7,548.3 326.3,548.3" fill="none" stroke="#a61a45" stroke-width="1.15" stroke-linejoin="round" />
<line x1="224.7" y1="581.2" x2="224.7" y2="584.8" stroke="#a61a45" stroke-width="0.7" />
</g>
<rect x="213.2" y="509.5" width="113.1" height="112.8" fill="none" stroke="#1a1a1a" stroke-width="1.2" />
<text transform="translate(323.7,517.9)" font-size="6.15" text-anchor="end" fill="#1a1a1a" font-weight="normal" font-style="normal">HR = 3.3 [1.2 to 8.7]</text>
<text transform="translate(323.7,527.1)" font-size="6.15" text-anchor="end" fill="#1a1a1a" font-weight="normal" font-style="normal">adj.HR = 4.2 [1.3 to 13.4]</text>
<text transform="translate(317.5,545.1)" font-size="5.8" text-anchor="end" fill="#1a1a1a" font-weight="normal" font-style="normal">n.max = 8</text>
<text transform="translate(323,590.1)" font-size="5.8" text-anchor="end" fill="#1a1a1a" font-weight="normal" font-style="normal">n.max = 123</text>
<clipPath id="cd2"><rect x="381.6" y="509.5" width="113.0" height="112.79999999999995"/></clipPath>
<g clip-path="url(#cd2)">
<polyline points="390.5,617.5 390.5,608 391.5,608 391.5,607 392.7,607 392.7,603.8 395,603.8 395,600 397.3,600 397.3,596.9 399.05,596.9 399.05,593.45 400.8,593.45 400.8,590 402.5,590 402.5,586.5 404.8,586.5 404.8,585.4 406.25,585.4 406.25,583.65 407.7,583.65 407.7,581.9 409.4,581.9 409.4,581.3 413.4,581.3 421.5,580.8 426.1,580.2 433,579.8 440,579.6 494.6,579.4" fill="none" stroke="#8fdc9c" stroke-width="3.0" stroke-linejoin="round" stroke-opacity="0.55"/>
<polyline points="390.5,617.5 390.5,608 391.5,608 391.5,607 392.7,607 392.7,603.8 395,603.8 395,600 397.3,600 397.3,596.9 399.05,596.9 399.05,593.45 400.8,593.45 400.8,590 402.5,590 402.5,586.5 404.8,586.5 404.8,585.4 406.25,585.4 406.25,583.65 407.7,583.65 407.7,581.9 409.4,581.9 409.4,581.3 413.4,581.3 421.5,580.8 426.1,580.2 433,579.8 440,579.6 494.6,579.4" fill="none" stroke="#42a64c" stroke-width="1.15" stroke-linejoin="round" />
<line x1="406.8" y1="581.19" x2="406.8" y2="584.79" stroke="#42a64c" stroke-width="0.7" />
<line x1="408.8" y1="579.71" x2="408.8" y2="583.31" stroke="#42a64c" stroke-width="0.7" />
<line x1="409.8" y1="579.5" x2="409.8" y2="583.1" stroke="#42a64c" stroke-width="0.7" />
<line x1="414" y1="579.46" x2="414" y2="583.06" stroke="#42a64c" stroke-width="0.7" />
<line x1="422.1" y1="578.92" x2="422.1" y2="582.52" stroke="#42a64c" stroke-width="0.7" />
<line x1="433.4" y1="577.99" x2="433.4" y2="581.59" stroke="#42a64c" stroke-width="0.7" />
<line x1="434.5" y1="577.96" x2="434.5" y2="581.56" stroke="#42a64c" stroke-width="0.7" />
<line x1="449.5" y1="577.77" x2="449.5" y2="581.37" stroke="#42a64c" stroke-width="0.7" />
<line x1="490.6" y1="577.61" x2="490.6" y2="581.21" stroke="#42a64c" stroke-width="0.7" />
<polyline points="387.1,617.5 393,617.5 395,617.5 395,616.5 397,616.5 397,615 398.5,615 398.5,613 400.2,613 400.2,609.6 401.3,609.6 401.3,605.6 494.6,605.6" fill="none" stroke="#f59ab8" stroke-width="2.8" stroke-linejoin="round" stroke-opacity="0.45"/>
<polyline points="387.1,617.5 393,617.5 395,617.5 395,616.5 397,616.5 397,615 398.5,615 398.5,613 400.2,613 400.2,609.6 401.3,609.6 401.3,605.6 494.6,605.6" fill="none" stroke="#a61a45" stroke-width="1.15" stroke-linejoin="round" />
<line x1="403" y1="603.8" x2="403" y2="607.4" stroke="#a61a45" stroke-width="0.7" />
<line x1="404.5" y1="603.8" x2="404.5" y2="607.4" stroke="#a61a45" stroke-width="0.7" />
<line x1="406" y1="603.8" x2="406" y2="607.4" stroke="#a61a45" stroke-width="0.7" />
<line x1="407.5" y1="603.8" x2="407.5" y2="607.4" stroke="#a61a45" stroke-width="0.7" />
<line x1="409" y1="603.8" x2="409" y2="607.4" stroke="#a61a45" stroke-width="0.7" />
<line x1="411" y1="603.8" x2="411" y2="607.4" stroke="#a61a45" stroke-width="0.7" />
<line x1="413.5" y1="603.8" x2="413.5" y2="607.4" stroke="#a61a45" stroke-width="0.7" />
<line x1="424.4" y1="603.8" x2="424.4" y2="607.4" stroke="#a61a45" stroke-width="0.7" />
</g>
<rect x="381.6" y="509.5" width="113" height="112.8" fill="none" stroke="#1a1a1a" stroke-width="1.2" />
<text transform="translate(492,517.9)" font-size="6.15" text-anchor="end" fill="#1a1a1a" font-weight="normal" font-style="normal">HR = 0.3 [0.1 to 1.0]</text>
<text transform="translate(492,527.1)" font-size="6.15" text-anchor="end" fill="#1a1a1a" font-weight="normal" font-style="normal">adj.HR = 0.3 [0.1 to 0.9]</text>
<text transform="translate(487.6,576)" font-size="5.8" text-anchor="end" fill="#1a1a1a" font-weight="normal" font-style="normal">n.max = 91</text>
<text transform="translate(487.6,602.5)" font-size="5.8" text-anchor="end" fill="#1a1a1a" font-weight="normal" font-style="normal">n.max = 41</text>
<rect x="0.5" y="0.5" width="519" height="652" fill="none" stroke="#6b6b6b" stroke-width="1" />
</svg>
</body></html>
